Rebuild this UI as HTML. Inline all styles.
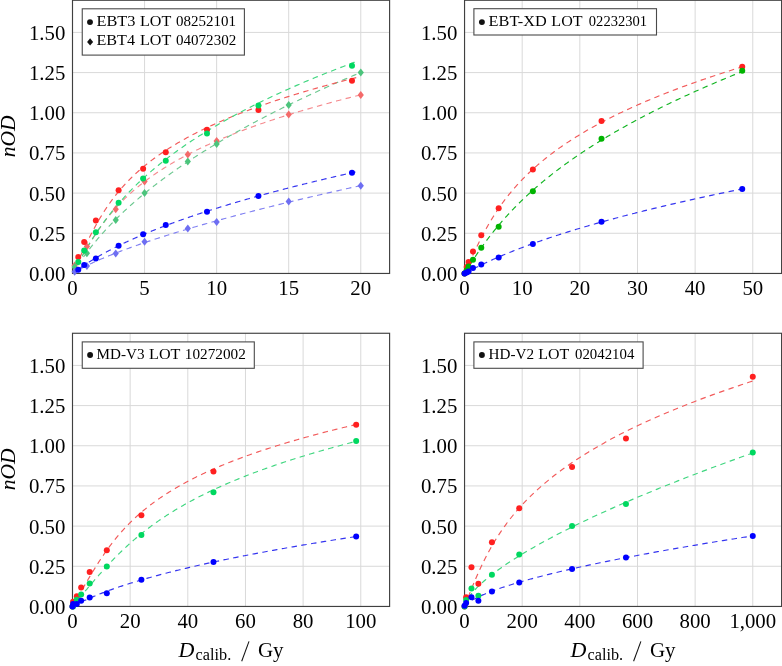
<!DOCTYPE html>
<html><head><meta charset="utf-8"><style>
html,body{margin:0;padding:0;background:#fff;}
svg{display:block;will-change:transform;}
.gr{stroke:#d9d9d9;stroke-width:1;}
.fr{fill:none;stroke:#404040;stroke-width:1.15;}
.lg{fill:#fff;stroke:#4a4a4a;stroke-width:1.1;}
.tk{font-family:"Liberation Serif",serif;font-size:20.8px;fill:#000;}
.lt{font-family:"Liberation Serif",serif;font-size:14px;fill:#000;}
.al{font-family:"Liberation Serif",serif;font-size:21.5px;fill:#000;}
</style></head><body>
<svg width="782" height="666" viewBox="0 0 782 666">
<rect width="782" height="666" fill="#fff"/>
<defs>
<clipPath id="cTL"><rect x="72.50" y="0.27" width="317.10" height="273.18"/></clipPath>
<clipPath id="cTR"><rect x="464.55" y="0.27" width="317.05" height="273.18"/></clipPath>
<clipPath id="cBL"><rect x="72.50" y="333.27" width="317.10" height="273.18"/></clipPath>
<clipPath id="cBR"><rect x="464.55" y="333.27" width="317.05" height="273.18"/></clipPath>
</defs>
<line x1="144.57" y1="0.27" x2="144.57" y2="273.45" class="gr"/>
<line x1="216.64" y1="0.27" x2="216.64" y2="273.45" class="gr"/>
<line x1="288.70" y1="0.27" x2="288.70" y2="273.45" class="gr"/>
<line x1="360.77" y1="0.27" x2="360.77" y2="273.45" class="gr"/>
<line x1="72.50" y1="233.28" x2="389.60" y2="233.28" class="gr"/>
<line x1="72.50" y1="193.10" x2="389.60" y2="193.10" class="gr"/>
<line x1="72.50" y1="152.93" x2="389.60" y2="152.93" class="gr"/>
<line x1="72.50" y1="112.76" x2="389.60" y2="112.76" class="gr"/>
<line x1="72.50" y1="72.58" x2="389.60" y2="72.58" class="gr"/>
<line x1="72.50" y1="32.41" x2="389.60" y2="32.41" class="gr"/>
<path d="M72.50,273.45 L72.83,272.85 L73.16,272.26 L73.50,271.66 L73.83,271.06 L74.16,270.46 L74.49,269.87 L74.83,269.27 L75.16,268.67 L75.49,268.07 L75.83,267.48 L76.16,266.88 L76.49,266.28 L76.83,265.68 L77.16,265.09 L77.50,264.49 L77.83,263.89 L78.17,263.29 L78.50,262.70 L78.84,262.10 L79.17,261.50 L79.51,260.91 L79.85,260.31 L80.18,259.71 L80.52,259.11 L80.86,258.52 L81.20,257.92 L81.54,257.32 L81.88,256.72 L82.22,256.13 L82.57,255.53 L82.91,254.93 L83.25,254.33 L83.60,253.74 L83.94,253.14 L84.29,252.54 L84.64,251.95 L84.99,251.35 L85.34,250.75 L85.69,250.15 L86.04,249.56 L86.39,248.96 L86.75,248.36 L87.10,247.76 L87.46,247.17 L87.82,246.57 L88.18,245.97 L88.54,245.37 L88.90,244.78 L89.26,244.18 L89.63,243.58 L90.00,242.98 L90.37,242.39 L90.74,241.79 L91.11,241.19 L91.48,240.60 L91.86,240.00 L92.23,239.40 L92.61,238.80 L92.99,238.21 L93.38,237.61 L93.76,237.01 L94.15,236.41 L94.54,235.82 L94.93,235.22 L95.32,234.62 L95.72,234.02 L96.11,233.43 L96.51,232.83 L96.92,232.23 L97.32,231.64 L97.73,231.04 L98.14,230.44 L98.55,229.84 L98.96,229.25 L99.38,228.65 L99.80,228.05 L100.22,227.45 L100.65,226.86 L101.07,226.26 L101.51,225.66 L101.94,225.06 L102.38,224.47 L102.82,223.87 L103.26,223.27 L103.70,222.67 L104.15,222.08 L104.60,221.48 L105.06,220.88 L105.52,220.29 L105.98,219.69 L106.44,219.09 L106.91,218.49 L107.38,217.90 L107.86,217.30 L108.34,216.70 L108.82,216.10 L109.31,215.51 L109.80,214.91 L110.29,214.31 L110.79,213.71 L111.29,213.12 L111.79,212.52 L112.30,211.92 L112.82,211.33 L113.33,210.73 L113.86,210.13 L114.38,209.53 L114.91,208.94 L115.44,208.34 L115.98,207.74 L116.53,207.14 L117.07,206.55 L117.62,205.95 L118.18,205.35 L118.74,204.75 L119.31,204.16 L119.88,203.56 L120.45,202.96 L121.03,202.36 L121.61,201.77 L122.20,201.17 L122.80,200.57 L123.40,199.98 L124.00,199.38 L124.61,198.78 L125.22,198.18 L125.84,197.59 L126.47,196.99 L127.10,196.39 L127.73,195.79 L128.37,195.20 L129.02,194.60 L129.67,194.00 L130.33,193.40 L130.99,192.81 L131.66,192.21 L132.34,191.61 L133.02,191.02 L133.70,190.42 L134.40,189.82 L135.09,189.22 L135.80,188.63 L136.51,188.03 L137.23,187.43 L137.95,186.83 L138.68,186.24 L139.41,185.64 L140.15,185.04 L140.90,184.44 L141.66,183.85 L142.42,183.25 L143.19,182.65 L143.96,182.05 L144.74,181.46 L145.53,180.86 L146.32,180.26 L147.13,179.67 L147.93,179.07 L148.75,178.47 L149.57,177.87 L150.40,177.28 L151.24,176.68 L152.08,176.08 L152.93,175.48 L153.79,174.89 L154.66,174.29 L155.53,173.69 L156.41,173.09 L157.30,172.50 L158.20,171.90 L159.10,171.30 L160.01,170.71 L160.93,170.11 L161.86,169.51 L162.80,168.91 L163.74,168.32 L164.69,167.72 L165.65,167.12 L166.62,166.52 L167.60,165.93 L168.58,165.33 L169.57,164.73 L170.57,164.13 L171.58,163.54 L172.60,162.94 L173.63,162.34 L174.67,161.74 L175.71,161.15 L176.76,160.55 L177.82,159.95 L178.90,159.36 L179.98,158.76 L181.06,158.16 L182.16,157.56 L183.27,156.97 L184.39,156.37 L185.51,155.77 L186.65,155.17 L187.79,154.58 L188.94,153.98 L190.11,153.38 L191.28,152.78 L192.46,152.19 L193.66,151.59 L194.86,150.99 L196.07,150.40 L197.29,149.80 L198.52,149.20 L199.76,148.60 L201.02,148.01 L202.28,147.41 L203.55,146.81 L204.83,146.21 L206.13,145.62 L207.43,145.02 L208.74,144.42 L210.07,143.82 L211.40,143.23 L212.75,142.63 L214.10,142.03 L215.47,141.43 L216.85,140.84 L218.24,140.24 L219.64,139.64 L221.05,139.05 L222.47,138.45 L223.91,137.85 L225.35,137.25 L226.81,136.66 L228.27,136.06 L229.75,135.46 L231.24,134.86 L232.74,134.27 L234.26,133.67 L235.78,133.07 L237.32,132.47 L238.87,131.88 L240.43,131.28 L242.00,130.68 L243.58,130.09 L245.18,129.49 L246.79,128.89 L248.41,128.29 L250.04,127.70 L251.69,127.10 L253.35,126.50 L255.02,125.90 L256.70,125.31 L258.40,124.71 L260.11,124.11 L261.83,123.51 L263.56,122.92 L265.31,122.32 L267.07,121.72 L268.84,121.12 L270.63,120.53 L272.43,119.93 L274.24,119.33 L276.06,118.74 L277.90,118.14 L279.76,117.54 L281.62,116.94 L283.50,116.35 L285.39,115.75 L287.30,115.15 L289.22,114.55 L291.16,113.96 L293.10,113.36 L295.07,112.76 L297.04,112.16 L299.03,111.57 L301.04,110.97 L303.06,110.37 L305.09,109.77 L307.14,109.18 L309.20,108.58 L311.28,107.98 L313.37,107.39 L315.47,106.79 L317.59,106.19 L319.73,105.59 L321.88,105.00 L324.04,104.40 L326.22,103.80 L328.42,103.20 L330.63,102.61 L332.85,102.01 L335.10,101.41 L337.35,100.81 L339.62,100.22 L341.91,99.62 L344.21,99.02 L346.53,98.43 L348.87,97.83 L351.21,97.23 L353.58,96.63 L355.96,96.04 L358.36,95.44 L360.77,94.84" clip-path="url(#cTL)" fill="none" stroke="#f58a8e" stroke-width="1.15" stroke-dasharray="5.5 4.4"/>
<path d="M72.50,273.45 L72.92,272.78 L73.35,272.11 L73.77,271.43 L74.20,270.76 L74.63,270.09 L75.06,269.42 L75.50,268.74 L75.94,268.07 L76.38,267.40 L76.82,266.73 L77.26,266.05 L77.71,265.38 L78.16,264.71 L78.61,264.04 L79.07,263.37 L79.53,262.69 L79.99,262.02 L80.45,261.35 L80.92,260.68 L81.39,260.00 L81.86,259.33 L82.34,258.66 L82.81,257.99 L83.30,257.31 L83.78,256.64 L84.27,255.97 L84.76,255.30 L85.25,254.62 L85.75,253.95 L86.25,253.28 L86.75,252.61 L87.25,251.94 L87.76,251.26 L88.27,250.59 L88.79,249.92 L89.31,249.25 L89.83,248.57 L90.35,247.90 L90.88,247.23 L91.41,246.56 L91.95,245.88 L92.48,245.21 L93.03,244.54 L93.57,243.87 L94.12,243.20 L94.67,242.52 L95.22,241.85 L95.78,241.18 L96.34,240.51 L96.90,239.83 L97.47,239.16 L98.04,238.49 L98.62,237.82 L99.20,237.14 L99.78,236.47 L100.36,235.80 L100.95,235.13 L101.54,234.46 L102.14,233.78 L102.73,233.11 L103.34,232.44 L103.94,231.77 L104.55,231.09 L105.16,230.42 L105.78,229.75 L106.40,229.08 L107.02,228.40 L107.65,227.73 L108.28,227.06 L108.91,226.39 L109.55,225.71 L110.19,225.04 L110.84,224.37 L111.49,223.70 L112.14,223.03 L112.79,222.35 L113.45,221.68 L114.12,221.01 L114.78,220.34 L115.45,219.66 L116.13,218.99 L116.81,218.32 L117.49,217.65 L118.17,216.97 L118.86,216.30 L119.55,215.63 L120.25,214.96 L120.95,214.29 L121.65,213.61 L122.36,212.94 L123.07,212.27 L123.79,211.60 L124.51,210.92 L125.23,210.25 L125.95,209.58 L126.68,208.91 L127.42,208.23 L128.16,207.56 L128.90,206.89 L129.64,206.22 L130.39,205.55 L131.15,204.87 L131.90,204.20 L132.66,203.53 L133.43,202.86 L134.20,202.18 L134.97,201.51 L135.74,200.84 L136.52,200.17 L137.31,199.49 L138.10,198.82 L138.89,198.15 L139.68,197.48 L140.48,196.80 L141.29,196.13 L142.09,195.46 L142.91,194.79 L143.72,194.12 L144.54,193.44 L145.36,192.77 L146.19,192.10 L147.02,191.43 L147.86,190.75 L148.70,190.08 L149.54,189.41 L150.39,188.74 L151.24,188.06 L152.09,187.39 L152.95,186.72 L153.81,186.05 L154.68,185.38 L155.55,184.70 L156.43,184.03 L157.30,183.36 L158.19,182.69 L159.07,182.01 L159.97,181.34 L160.86,180.67 L161.76,180.00 L162.66,179.32 L163.57,178.65 L164.48,177.98 L165.40,177.31 L166.32,176.64 L167.24,175.96 L168.17,175.29 L169.10,174.62 L170.04,173.95 L170.98,173.27 L171.92,172.60 L172.87,171.93 L173.82,171.26 L174.78,170.58 L175.74,169.91 L176.70,169.24 L177.67,168.57 L178.64,167.89 L179.62,167.22 L180.60,166.55 L181.59,165.88 L182.58,165.21 L183.57,164.53 L184.57,163.86 L185.57,163.19 L186.58,162.52 L187.59,161.84 L188.60,161.17 L189.62,160.50 L190.64,159.83 L191.67,159.15 L192.70,158.48 L193.74,157.81 L194.78,157.14 L195.82,156.47 L196.87,155.79 L197.92,155.12 L198.98,154.45 L200.04,153.78 L201.10,153.10 L202.17,152.43 L203.25,151.76 L204.33,151.09 L205.41,150.41 L206.49,149.74 L207.58,149.07 L208.68,148.40 L209.78,147.73 L210.88,147.05 L211.99,146.38 L213.10,145.71 L214.22,145.04 L215.34,144.36 L216.46,143.69 L217.59,143.02 L218.73,142.35 L219.86,141.67 L221.01,141.00 L222.15,140.33 L223.30,139.66 L224.46,138.98 L225.62,138.31 L226.78,137.64 L227.95,136.97 L229.12,136.30 L230.30,135.62 L231.48,134.95 L232.66,134.28 L233.85,133.61 L235.05,132.93 L236.25,132.26 L237.45,131.59 L238.66,130.92 L239.87,130.24 L241.08,129.57 L242.30,128.90 L243.53,128.23 L244.76,127.56 L245.99,126.88 L247.23,126.21 L248.47,125.54 L249.72,124.87 L250.97,124.19 L252.22,123.52 L253.48,122.85 L254.75,122.18 L256.02,121.50 L257.29,120.83 L258.57,120.16 L259.85,119.49 L261.14,118.82 L262.43,118.14 L263.72,117.47 L265.02,116.80 L266.33,116.13 L267.63,115.45 L268.95,114.78 L270.26,114.11 L271.59,113.44 L272.91,112.76 L274.24,112.09 L275.58,111.42 L276.92,110.75 L278.26,110.07 L279.61,109.40 L280.97,108.73 L282.32,108.06 L283.68,107.39 L285.05,106.71 L286.42,106.04 L287.80,105.37 L289.18,104.70 L290.56,104.02 L291.95,103.35 L293.35,102.68 L294.74,102.01 L296.15,101.33 L297.55,100.66 L298.97,99.99 L300.38,99.32 L301.80,98.65 L303.23,97.97 L304.66,97.30 L306.09,96.63 L307.53,95.96 L308.97,95.28 L310.42,94.61 L311.87,93.94 L313.33,93.27 L314.79,92.59 L316.26,91.92 L317.73,91.25 L319.21,90.58 L320.69,89.91 L322.17,89.23 L323.66,88.56 L325.15,87.89 L326.65,87.22 L328.15,86.54 L329.66,85.87 L331.17,85.20 L332.69,84.53 L334.21,83.85 L335.74,83.18 L337.27,82.51 L338.80,81.84 L340.34,81.16 L341.88,80.49 L343.43,79.82 L344.99,79.15 L346.54,78.48 L348.11,77.80 L349.67,77.13 L351.25,76.46 L352.82,75.79 L354.40,75.11 L355.99,74.44 L357.58,73.77 L359.17,73.10 L360.77,72.42" clip-path="url(#cTL)" fill="none" stroke="#6cc890" stroke-width="1.15" stroke-dasharray="5.5 4.4"/>
<path d="M72.50,273.45 L72.95,273.16 L73.41,272.86 L73.88,272.57 L74.35,272.27 L74.84,271.98 L75.33,271.69 L75.83,271.39 L76.33,271.10 L76.84,270.80 L77.36,270.51 L77.88,270.22 L78.40,269.92 L78.94,269.63 L79.48,269.34 L80.02,269.04 L80.57,268.75 L81.12,268.45 L81.68,268.16 L82.24,267.87 L82.81,267.57 L83.38,267.28 L83.96,266.98 L84.54,266.69 L85.13,266.40 L85.72,266.10 L86.31,265.81 L86.91,265.51 L87.51,265.22 L88.12,264.93 L88.73,264.63 L89.35,264.34 L89.97,264.05 L90.59,263.75 L91.22,263.46 L91.85,263.16 L92.49,262.87 L93.13,262.58 L93.77,262.28 L94.42,261.99 L95.07,261.69 L95.73,261.40 L96.39,261.11 L97.05,260.81 L97.72,260.52 L98.39,260.22 L99.06,259.93 L99.74,259.64 L100.42,259.34 L101.11,259.05 L101.80,258.76 L102.49,258.46 L103.19,258.17 L103.89,257.87 L104.59,257.58 L105.29,257.29 L106.00,256.99 L106.72,256.70 L107.44,256.40 L108.16,256.11 L108.88,255.82 L109.61,255.52 L110.34,255.23 L111.07,254.93 L111.81,254.64 L112.55,254.35 L113.29,254.05 L114.04,253.76 L114.79,253.47 L115.55,253.17 L116.30,252.88 L117.06,252.58 L117.83,252.29 L118.59,252.00 L119.36,251.70 L120.14,251.41 L120.91,251.11 L121.69,250.82 L122.48,250.53 L123.26,250.23 L124.05,249.94 L124.84,249.64 L125.64,249.35 L126.44,249.06 L127.24,248.76 L128.04,248.47 L128.85,248.17 L129.66,247.88 L130.48,247.59 L131.29,247.29 L132.11,247.00 L132.94,246.71 L133.76,246.41 L134.59,246.12 L135.42,245.82 L136.26,245.53 L137.10,245.24 L137.94,244.94 L138.78,244.65 L139.63,244.35 L140.48,244.06 L141.33,243.77 L142.19,243.47 L143.04,243.18 L143.91,242.88 L144.77,242.59 L145.64,242.30 L146.51,242.00 L147.38,241.71 L148.26,241.42 L149.13,241.12 L150.02,240.83 L150.90,240.53 L151.79,240.24 L152.68,239.95 L153.57,239.65 L154.47,239.36 L155.37,239.06 L156.27,238.77 L157.17,238.48 L158.08,238.18 L158.99,237.89 L159.90,237.59 L160.82,237.30 L161.73,237.01 L162.65,236.71 L163.58,236.42 L164.50,236.13 L165.43,235.83 L166.37,235.54 L167.30,235.24 L168.24,234.95 L169.18,234.66 L170.12,234.36 L171.07,234.07 L172.01,233.77 L172.96,233.48 L173.92,233.19 L174.87,232.89 L175.83,232.60 L176.79,232.30 L177.76,232.01 L178.72,231.72 L179.69,231.42 L180.67,231.13 L181.64,230.83 L182.62,230.54 L183.60,230.25 L184.58,229.95 L185.57,229.66 L186.55,229.37 L187.54,229.07 L188.54,228.78 L189.53,228.48 L190.53,228.19 L191.53,227.90 L192.54,227.60 L193.54,227.31 L194.55,227.01 L195.56,226.72 L196.58,226.43 L197.59,226.13 L198.61,225.84 L199.63,225.54 L200.66,225.25 L201.68,224.96 L202.71,224.66 L203.74,224.37 L204.78,224.08 L205.81,223.78 L206.85,223.49 L207.89,223.19 L208.94,222.90 L209.99,222.61 L211.03,222.31 L212.09,222.02 L213.14,221.72 L214.20,221.43 L215.26,221.14 L216.32,220.84 L217.38,220.55 L218.45,220.25 L219.52,219.96 L220.59,219.67 L221.66,219.37 L222.74,219.08 L223.82,218.79 L224.90,218.49 L225.98,218.20 L227.07,217.90 L228.16,217.61 L229.25,217.32 L230.34,217.02 L231.44,216.73 L232.54,216.43 L233.64,216.14 L234.74,215.85 L235.85,215.55 L236.96,215.26 L238.07,214.96 L239.18,214.67 L240.30,214.38 L241.41,214.08 L242.53,213.79 L243.66,213.50 L244.78,213.20 L245.91,212.91 L247.04,212.61 L248.17,212.32 L249.31,212.03 L250.44,211.73 L251.58,211.44 L252.72,211.14 L253.87,210.85 L255.01,210.56 L256.16,210.26 L257.31,209.97 L258.47,209.67 L259.62,209.38 L260.78,209.09 L261.94,208.79 L263.10,208.50 L264.27,208.20 L265.44,207.91 L266.61,207.62 L267.78,207.32 L268.95,207.03 L270.13,206.74 L271.31,206.44 L272.49,206.15 L273.67,205.85 L274.86,205.56 L276.05,205.27 L277.24,204.97 L278.43,204.68 L279.63,204.38 L280.82,204.09 L282.02,203.80 L283.22,203.50 L284.43,203.21 L285.64,202.91 L286.84,202.62 L288.06,202.33 L289.27,202.03 L290.48,201.74 L291.70,201.45 L292.92,201.15 L294.15,200.86 L295.37,200.56 L296.60,200.27 L297.83,199.98 L299.06,199.68 L300.29,199.39 L301.53,199.09 L302.77,198.80 L304.01,198.51 L305.25,198.21 L306.49,197.92 L307.74,197.62 L308.99,197.33 L310.24,197.04 L311.50,196.74 L312.75,196.45 L314.01,196.16 L315.27,195.86 L316.53,195.57 L317.80,195.27 L319.07,194.98 L320.34,194.69 L321.61,194.39 L322.88,194.10 L324.16,193.80 L325.44,193.51 L326.72,193.22 L328.00,192.92 L329.28,192.63 L330.57,192.33 L331.86,192.04 L333.15,191.75 L334.45,191.45 L335.74,191.16 L337.04,190.87 L338.34,190.57 L339.64,190.28 L340.95,189.98 L342.25,189.69 L343.56,189.40 L344.87,189.10 L346.19,188.81 L347.50,188.51 L348.82,188.22 L350.14,187.93 L351.46,187.63 L352.78,187.34 L354.11,187.04 L355.44,186.75 L356.77,186.46 L358.10,186.16 L359.44,185.87 L360.77,185.57" clip-path="url(#cTL)" fill="none" stroke="#8282f2" stroke-width="1.15" stroke-dasharray="5.5 4.4"/>
<path d="M72.50,273.45 L72.80,272.79 L73.10,272.14 L73.40,271.48 L73.70,270.82 L74.00,270.17 L74.31,269.51 L74.61,268.86 L74.91,268.20 L75.21,267.54 L75.51,266.89 L75.81,266.23 L76.11,265.57 L76.41,264.92 L76.72,264.26 L77.02,263.60 L77.32,262.95 L77.62,262.29 L77.92,261.64 L78.23,260.98 L78.53,260.32 L78.83,259.67 L79.14,259.01 L79.44,258.35 L79.74,257.70 L80.05,257.04 L80.35,256.38 L80.66,255.73 L80.97,255.07 L81.27,254.42 L81.58,253.76 L81.89,253.10 L82.19,252.45 L82.50,251.79 L82.81,251.13 L83.12,250.48 L83.43,249.82 L83.74,249.16 L84.06,248.51 L84.37,247.85 L84.68,247.19 L85.00,246.54 L85.31,245.88 L85.63,245.23 L85.95,244.57 L86.26,243.91 L86.58,243.26 L86.90,242.60 L87.22,241.94 L87.55,241.29 L87.87,240.63 L88.20,239.97 L88.52,239.32 L88.85,238.66 L89.18,238.01 L89.51,237.35 L89.84,236.69 L90.17,236.04 L90.51,235.38 L90.84,234.72 L91.18,234.07 L91.52,233.41 L91.86,232.75 L92.20,232.10 L92.55,231.44 L92.89,230.79 L93.24,230.13 L93.59,229.47 L93.94,228.82 L94.30,228.16 L94.65,227.50 L95.01,226.85 L95.37,226.19 L95.73,225.53 L96.09,224.88 L96.46,224.22 L96.83,223.57 L97.20,222.91 L97.57,222.25 L97.95,221.60 L98.33,220.94 L98.71,220.28 L99.09,219.63 L99.48,218.97 L99.86,218.31 L100.25,217.66 L100.65,217.00 L101.05,216.35 L101.45,215.69 L101.85,215.03 L102.25,214.38 L102.66,213.72 L103.07,213.06 L103.49,212.41 L103.91,211.75 L104.33,211.09 L104.75,210.44 L105.18,209.78 L105.61,209.12 L106.05,208.47 L106.49,207.81 L106.93,207.16 L107.37,206.50 L107.82,205.84 L108.28,205.19 L108.73,204.53 L109.19,203.87 L109.66,203.22 L110.13,202.56 L110.60,201.90 L111.08,201.25 L111.56,200.59 L112.04,199.94 L112.53,199.28 L113.03,198.62 L113.52,197.97 L114.03,197.31 L114.53,196.65 L115.05,196.00 L115.56,195.34 L116.08,194.68 L116.61,194.03 L117.14,193.37 L117.68,192.72 L118.22,192.06 L118.76,191.40 L119.31,190.75 L119.87,190.09 L120.43,189.43 L121.00,188.78 L121.57,188.12 L122.15,187.46 L122.73,186.81 L123.32,186.15 L123.91,185.50 L124.51,184.84 L125.12,184.18 L125.73,183.53 L126.35,182.87 L126.97,182.21 L127.60,181.56 L128.23,180.90 L128.87,180.24 L129.52,179.59 L130.18,178.93 L130.84,178.28 L131.50,177.62 L132.18,176.96 L132.86,176.31 L133.54,175.65 L134.24,174.99 L134.94,174.34 L135.64,173.68 L136.36,173.02 L137.08,172.37 L137.80,171.71 L138.54,171.05 L139.28,170.40 L140.03,169.74 L140.79,169.09 L141.55,168.43 L142.32,167.77 L143.10,167.12 L143.89,166.46 L144.69,165.80 L145.49,165.15 L146.30,164.49 L147.12,163.83 L147.94,163.18 L148.78,162.52 L149.62,161.87 L150.47,161.21 L151.33,160.55 L152.20,159.90 L153.08,159.24 L153.96,158.58 L154.85,157.93 L155.76,157.27 L156.67,156.61 L157.59,155.96 L158.52,155.30 L159.45,154.65 L160.40,153.99 L161.36,153.33 L162.32,152.68 L163.30,152.02 L164.28,151.36 L165.28,150.71 L166.28,150.05 L167.29,149.39 L168.32,148.74 L169.35,148.08 L170.39,147.43 L171.45,146.77 L172.51,146.11 L173.58,145.46 L174.67,144.80 L175.76,144.14 L176.86,143.49 L177.98,142.83 L179.10,142.17 L180.24,141.52 L181.39,140.86 L182.54,140.21 L183.71,139.55 L184.89,138.89 L186.08,138.24 L187.28,137.58 L188.50,136.92 L189.72,136.27 L190.96,135.61 L192.20,134.95 L193.46,134.30 L194.73,133.64 L196.02,132.98 L197.31,132.33 L198.62,131.67 L199.94,131.02 L201.27,130.36 L202.61,129.70 L203.96,129.05 L205.33,128.39 L206.71,127.73 L208.10,127.08 L209.51,126.42 L210.93,125.76 L212.36,125.11 L213.80,124.45 L215.26,123.80 L216.73,123.14 L218.21,122.48 L219.71,121.83 L221.22,121.17 L222.74,120.51 L224.28,119.86 L225.83,119.20 L227.40,118.54 L228.97,117.89 L230.57,117.23 L232.17,116.58 L233.79,115.92 L235.43,115.26 L237.08,114.61 L238.74,113.95 L240.42,113.29 L242.11,112.64 L243.82,111.98 L245.54,111.32 L247.28,110.67 L249.03,110.01 L250.80,109.36 L252.58,108.70 L254.37,108.04 L256.19,107.39 L258.02,106.73 L259.86,106.07 L261.72,105.42 L263.59,104.76 L265.49,104.10 L267.39,103.45 L269.32,102.79 L271.25,102.14 L273.21,101.48 L275.18,100.82 L277.17,100.17 L279.17,99.51 L281.20,98.85 L283.23,98.20 L285.29,97.54 L287.36,96.88 L289.45,96.23 L291.56,95.57 L293.68,94.92 L295.82,94.26 L297.98,93.60 L300.15,92.95 L302.35,92.29 L304.56,91.63 L306.79,90.98 L309.03,90.32 L311.30,89.66 L313.58,89.01 L315.88,88.35 L318.20,87.69 L320.54,87.04 L322.89,86.38 L325.27,85.73 L327.66,85.07 L330.08,84.41 L332.51,83.76 L334.96,83.10 L337.43,82.44 L339.92,81.79 L342.43,81.13 L344.95,80.47 L347.50,79.82 L350.07,79.16 L352.66,78.51 L355.26,77.85 L357.89,77.19" clip-path="url(#cTL)" fill="none" stroke="#f25a5a" stroke-width="1.15" stroke-dasharray="5.5 4.4"/>
<path d="M72.50,273.45 L72.88,272.74 L73.27,272.03 L73.65,271.32 L74.04,270.61 L74.42,269.90 L74.81,269.19 L75.19,268.48 L75.58,267.77 L75.96,267.05 L76.35,266.34 L76.74,265.63 L77.13,264.92 L77.52,264.21 L77.91,263.50 L78.30,262.79 L78.70,262.08 L79.09,261.37 L79.49,260.66 L79.89,259.95 L80.28,259.24 L80.68,258.53 L81.08,257.82 L81.49,257.11 L81.89,256.40 L82.29,255.69 L82.70,254.97 L83.11,254.26 L83.52,253.55 L83.93,252.84 L84.34,252.13 L84.76,251.42 L85.18,250.71 L85.59,250.00 L86.01,249.29 L86.44,248.58 L86.86,247.87 L87.29,247.16 L87.71,246.45 L88.14,245.74 L88.58,245.03 L89.01,244.32 L89.45,243.61 L89.89,242.89 L90.33,242.18 L90.77,241.47 L91.22,240.76 L91.66,240.05 L92.11,239.34 L92.57,238.63 L93.02,237.92 L93.48,237.21 L93.94,236.50 L94.40,235.79 L94.87,235.08 L95.34,234.37 L95.81,233.66 L96.28,232.95 L96.76,232.24 L97.24,231.53 L97.72,230.82 L98.20,230.10 L98.69,229.39 L99.18,228.68 L99.67,227.97 L100.17,227.26 L100.67,226.55 L101.17,225.84 L101.68,225.13 L102.18,224.42 L102.70,223.71 L103.21,223.00 L103.73,222.29 L104.25,221.58 L104.77,220.87 L105.30,220.16 L105.83,219.45 L106.37,218.74 L106.90,218.02 L107.45,217.31 L107.99,216.60 L108.54,215.89 L109.09,215.18 L109.64,214.47 L110.20,213.76 L110.76,213.05 L111.33,212.34 L111.90,211.63 L112.47,210.92 L113.05,210.21 L113.63,209.50 L114.22,208.79 L114.80,208.08 L115.40,207.37 L115.99,206.66 L116.59,205.94 L117.19,205.23 L117.80,204.52 L118.41,203.81 L119.03,203.10 L119.65,202.39 L120.27,201.68 L120.90,200.97 L121.53,200.26 L122.17,199.55 L122.81,198.84 L123.45,198.13 L124.10,197.42 L124.76,196.71 L125.41,196.00 L126.07,195.29 L126.74,194.58 L127.41,193.86 L128.09,193.15 L128.76,192.44 L129.45,191.73 L130.14,191.02 L130.83,190.31 L131.53,189.60 L132.23,188.89 L132.93,188.18 L133.65,187.47 L134.36,186.76 L135.08,186.05 L135.81,185.34 L136.54,184.63 L137.27,183.92 L138.01,183.21 L138.75,182.50 L139.50,181.78 L140.26,181.07 L141.02,180.36 L141.78,179.65 L142.55,178.94 L143.32,178.23 L144.10,177.52 L144.88,176.81 L145.67,176.10 L146.47,175.39 L147.27,174.68 L148.07,173.97 L148.88,173.26 L149.69,172.55 L150.51,171.84 L151.34,171.13 L152.17,170.42 L153.00,169.70 L153.84,168.99 L154.69,168.28 L155.54,167.57 L156.40,166.86 L157.26,166.15 L158.13,165.44 L159.00,164.73 L159.88,164.02 L160.76,163.31 L161.65,162.60 L162.55,161.89 L163.45,161.18 L164.36,160.47 L165.27,159.76 L166.19,159.05 L167.11,158.34 L168.04,157.62 L168.97,156.91 L169.92,156.20 L170.86,155.49 L171.81,154.78 L172.77,154.07 L173.74,153.36 L174.71,152.65 L175.68,151.94 L176.66,151.23 L177.65,150.52 L178.65,149.81 L179.65,149.10 L180.65,148.39 L181.66,147.68 L182.68,146.97 L183.71,146.26 L184.74,145.55 L185.77,144.83 L186.82,144.12 L187.86,143.41 L188.92,142.70 L189.98,141.99 L191.05,141.28 L192.12,140.57 L193.20,139.86 L194.29,139.15 L195.38,138.44 L196.48,137.73 L197.59,137.02 L198.70,136.31 L199.82,135.60 L200.94,134.89 L202.08,134.18 L203.22,133.47 L204.36,132.75 L205.51,132.04 L206.67,131.33 L207.83,130.62 L209.01,129.91 L210.18,129.20 L211.37,128.49 L212.56,127.78 L213.76,127.07 L214.96,126.36 L216.18,125.65 L217.40,124.94 L218.62,124.23 L219.85,123.52 L221.09,122.81 L222.34,122.10 L223.59,121.39 L224.85,120.67 L226.12,119.96 L227.39,119.25 L228.68,118.54 L229.96,117.83 L231.26,117.12 L232.56,116.41 L233.87,115.70 L235.19,114.99 L236.51,114.28 L237.84,113.57 L239.18,112.86 L240.53,112.15 L241.88,111.44 L243.24,110.73 L244.61,110.02 L245.98,109.31 L247.37,108.59 L248.76,107.88 L250.15,107.17 L251.56,106.46 L252.97,105.75 L254.39,105.04 L255.82,104.33 L257.25,103.62 L258.69,102.91 L260.14,102.20 L261.60,101.49 L263.06,100.78 L264.53,100.07 L266.01,99.36 L267.50,98.65 L269.00,97.94 L270.50,97.23 L272.01,96.51 L273.53,95.80 L275.06,95.09 L276.59,94.38 L278.13,93.67 L279.68,92.96 L281.24,92.25 L282.80,91.54 L284.38,90.83 L285.96,90.12 L287.55,89.41 L289.15,88.70 L290.75,87.99 L292.36,87.28 L293.99,86.57 L295.62,85.86 L297.25,85.15 L298.90,84.43 L300.55,83.72 L302.21,83.01 L303.88,82.30 L305.56,81.59 L307.25,80.88 L308.94,80.17 L310.65,79.46 L312.36,78.75 L314.08,78.04 L315.80,77.33 L317.54,76.62 L319.29,75.91 L321.04,75.20 L322.80,74.49 L324.57,73.78 L326.35,73.07 L328.13,72.36 L329.93,71.64 L331.73,70.93 L333.54,70.22 L335.37,69.51 L337.20,68.80 L339.03,68.09 L340.88,67.38 L342.73,66.67 L344.60,65.96 L346.47,65.25 L348.35,64.54 L350.24,63.83 L352.14,63.12 L354.05,62.41 L355.96,61.70 L357.89,60.99" clip-path="url(#cTL)" fill="none" stroke="#3fd67f" stroke-width="1.15" stroke-dasharray="5.5 4.4"/>
<path d="M72.50,273.45 L72.96,273.11 L73.42,272.77 L73.88,272.43 L74.34,272.08 L74.80,271.74 L75.27,271.40 L75.74,271.06 L76.21,270.72 L76.69,270.38 L77.16,270.04 L77.64,269.70 L78.12,269.35 L78.61,269.01 L79.09,268.67 L79.58,268.33 L80.08,267.99 L80.57,267.65 L81.07,267.31 L81.57,266.97 L82.07,266.62 L82.58,266.28 L83.08,265.94 L83.59,265.60 L84.11,265.26 L84.62,264.92 L85.14,264.58 L85.67,264.24 L86.19,263.89 L86.72,263.55 L87.25,263.21 L87.78,262.87 L88.32,262.53 L88.86,262.19 L89.40,261.85 L89.95,261.51 L90.50,261.16 L91.05,260.82 L91.60,260.48 L92.16,260.14 L92.72,259.80 L93.29,259.46 L93.85,259.12 L94.42,258.78 L94.99,258.43 L95.57,258.09 L96.15,257.75 L96.73,257.41 L97.32,257.07 L97.91,256.73 L98.50,256.39 L99.09,256.05 L99.69,255.70 L100.29,255.36 L100.90,255.02 L101.50,254.68 L102.11,254.34 L102.73,254.00 L103.34,253.66 L103.96,253.31 L104.59,252.97 L105.21,252.63 L105.84,252.29 L106.48,251.95 L107.11,251.61 L107.75,251.27 L108.40,250.93 L109.04,250.58 L109.69,250.24 L110.35,249.90 L111.00,249.56 L111.66,249.22 L112.32,248.88 L112.99,248.54 L113.66,248.20 L114.33,247.85 L115.01,247.51 L115.69,247.17 L116.37,246.83 L117.06,246.49 L117.75,246.15 L118.44,245.81 L119.14,245.47 L119.84,245.12 L120.54,244.78 L121.25,244.44 L121.96,244.10 L122.67,243.76 L123.39,243.42 L124.11,243.08 L124.83,242.74 L125.56,242.39 L126.29,242.05 L127.02,241.71 L127.76,241.37 L128.50,241.03 L129.25,240.69 L129.99,240.35 L130.74,240.01 L131.50,239.66 L132.26,239.32 L133.02,238.98 L133.78,238.64 L134.55,238.30 L135.33,237.96 L136.10,237.62 L136.88,237.27 L137.66,236.93 L138.45,236.59 L139.24,236.25 L140.03,235.91 L140.83,235.57 L141.63,235.23 L142.44,234.89 L143.24,234.54 L144.06,234.20 L144.87,233.86 L145.69,233.52 L146.51,233.18 L147.34,232.84 L148.17,232.50 L149.00,232.16 L149.84,231.81 L150.68,231.47 L151.52,231.13 L152.37,230.79 L153.22,230.45 L154.07,230.11 L154.93,229.77 L155.79,229.43 L156.66,229.08 L157.53,228.74 L158.40,228.40 L159.27,228.06 L160.15,227.72 L161.04,227.38 L161.93,227.04 L162.82,226.70 L163.71,226.35 L164.61,226.01 L165.51,225.67 L166.42,225.33 L167.33,224.99 L168.24,224.65 L169.16,224.31 L170.08,223.97 L171.00,223.62 L171.93,223.28 L172.86,222.94 L173.79,222.60 L174.73,222.26 L175.68,221.92 L176.62,221.58 L177.57,221.24 L178.53,220.89 L179.48,220.55 L180.44,220.21 L181.41,219.87 L182.38,219.53 L183.35,219.19 L184.33,218.85 L185.31,218.50 L186.29,218.16 L187.28,217.82 L188.27,217.48 L189.26,217.14 L190.26,216.80 L191.27,216.46 L192.27,216.12 L193.28,215.77 L194.30,215.43 L195.31,215.09 L196.34,214.75 L197.36,214.41 L198.39,214.07 L199.42,213.73 L200.46,213.39 L201.50,213.04 L202.54,212.70 L203.59,212.36 L204.64,212.02 L205.70,211.68 L206.76,211.34 L207.82,211.00 L208.89,210.66 L209.96,210.31 L211.04,209.97 L212.11,209.63 L213.20,209.29 L214.28,208.95 L215.37,208.61 L216.47,208.27 L217.57,207.93 L218.67,207.58 L219.77,207.24 L220.88,206.90 L222.00,206.56 L223.11,206.22 L224.23,205.88 L225.36,205.54 L226.49,205.20 L227.62,204.85 L228.76,204.51 L229.90,204.17 L231.04,203.83 L232.19,203.49 L233.34,203.15 L234.50,202.81 L235.66,202.47 L236.82,202.12 L237.99,201.78 L239.16,201.44 L240.34,201.10 L241.52,200.76 L242.70,200.42 L243.89,200.08 L245.08,199.73 L246.28,199.39 L247.47,199.05 L248.68,198.71 L249.89,198.37 L251.10,198.03 L252.31,197.69 L253.53,197.35 L254.75,197.00 L255.98,196.66 L257.21,196.32 L258.44,195.98 L259.68,195.64 L260.93,195.30 L262.17,194.96 L263.42,194.62 L264.68,194.27 L265.94,193.93 L267.20,193.59 L268.46,193.25 L269.74,192.91 L271.01,192.57 L272.29,192.23 L273.57,191.89 L274.86,191.54 L276.15,191.20 L277.44,190.86 L278.74,190.52 L280.04,190.18 L281.35,189.84 L282.66,189.50 L283.97,189.16 L285.29,188.81 L286.61,188.47 L287.94,188.13 L289.27,187.79 L290.60,187.45 L291.94,187.11 L293.28,186.77 L294.63,186.43 L295.98,186.08 L297.34,185.74 L298.69,185.40 L300.06,185.06 L301.42,184.72 L302.79,184.38 L304.17,184.04 L305.55,183.70 L306.93,183.35 L308.32,183.01 L309.71,182.67 L311.10,182.33 L312.50,181.99 L313.90,181.65 L315.31,181.31 L316.72,180.96 L318.14,180.62 L319.56,180.28 L320.98,179.94 L322.41,179.60 L323.84,179.26 L325.27,178.92 L326.71,178.58 L328.16,178.23 L329.60,177.89 L331.06,177.55 L332.51,177.21 L333.97,176.87 L335.44,176.53 L336.90,176.19 L338.38,175.85 L339.85,175.50 L341.33,175.16 L342.82,174.82 L344.31,174.48 L345.80,174.14 L347.30,173.80 L348.80,173.46 L350.30,173.12 L351.81,172.77 L353.33,172.43 L354.84,172.09 L356.36,171.75 L357.89,171.41" clip-path="url(#cTL)" fill="none" stroke="#3434f0" stroke-width="1.15" stroke-dasharray="5.5 4.4"/>
<rect x="72.50" y="0.27" width="317.10" height="273.18" class="fr"/>
<path d="M74.66,261.42 L77.76,265.42 L74.66,269.42 L71.56,265.42 Z" fill="#f46a6a"/>
<path d="M86.91,242.45 L90.01,246.45 L86.91,250.45 L83.81,246.45 Z" fill="#f46a6a"/>
<path d="M115.74,205.17 L118.84,209.17 L115.74,213.17 L112.64,209.17 Z" fill="#f46a6a"/>
<path d="M144.57,177.53 L147.67,181.53 L144.57,185.53 L141.47,181.53 Z" fill="#f46a6a"/>
<path d="M187.81,150.54 L190.91,154.54 L187.81,158.54 L184.71,154.54 Z" fill="#f46a6a"/>
<path d="M216.64,137.04 L219.74,141.04 L216.64,145.04 L213.54,141.04 Z" fill="#f46a6a"/>
<path d="M288.70,110.52 L291.80,114.52 L288.70,118.52 L285.60,114.52 Z" fill="#f46a6a"/>
<path d="M360.77,90.92 L363.87,94.92 L360.77,98.92 L357.67,94.92 Z" fill="#f46a6a"/>
<path d="M74.66,263.02 L77.76,267.02 L74.66,271.02 L71.56,267.02 Z" fill="#4cc47c"/>
<path d="M86.91,249.36 L90.01,253.36 L86.91,257.36 L83.81,253.36 Z" fill="#4cc47c"/>
<path d="M115.74,215.94 L118.84,219.94 L115.74,223.94 L112.64,219.94 Z" fill="#4cc47c"/>
<path d="M144.57,188.94 L147.67,192.94 L144.57,196.94 L141.47,192.94 Z" fill="#4cc47c"/>
<path d="M187.81,157.45 L190.91,161.45 L187.81,165.45 L184.71,161.45 Z" fill="#4cc47c"/>
<path d="M216.64,139.93 L219.74,143.93 L216.64,147.93 L213.54,143.93 Z" fill="#4cc47c"/>
<path d="M288.70,100.88 L291.80,104.88 L288.70,108.88 L285.60,104.88 Z" fill="#4cc47c"/>
<path d="M360.77,68.42 L363.87,72.42 L360.77,76.42 L357.67,72.42 Z" fill="#4cc47c"/>
<path d="M74.66,267.84 L77.76,271.84 L74.66,275.84 L71.56,271.84 Z" fill="#6e6ef2"/>
<path d="M86.91,261.90 L90.01,265.90 L86.91,269.90 L83.81,265.90 Z" fill="#6e6ef2"/>
<path d="M115.74,249.52 L118.84,253.52 L115.74,257.52 L112.64,253.52 Z" fill="#6e6ef2"/>
<path d="M144.57,237.63 L147.67,241.63 L144.57,245.63 L141.47,241.63 Z" fill="#6e6ef2"/>
<path d="M187.81,224.62 L190.91,228.62 L187.81,232.62 L184.71,228.62 Z" fill="#6e6ef2"/>
<path d="M216.64,218.03 L219.74,222.03 L216.64,226.03 L213.54,222.03 Z" fill="#6e6ef2"/>
<path d="M288.70,197.62 L291.80,201.62 L288.70,205.62 L285.60,201.62 Z" fill="#6e6ef2"/>
<path d="M360.77,181.71 L363.87,185.71 L360.77,189.71 L357.67,185.71 Z" fill="#6e6ef2"/>
<circle cx="78.27" cy="256.90" r="3.00" fill="#ff2020"/>
<circle cx="84.18" cy="241.95" r="3.00" fill="#ff2020"/>
<circle cx="95.85" cy="220.42" r="3.00" fill="#ff2020"/>
<circle cx="118.62" cy="190.21" r="3.00" fill="#ff2020"/>
<circle cx="143.13" cy="168.84" r="3.00" fill="#ff2020"/>
<circle cx="165.76" cy="152.13" r="3.00" fill="#ff2020"/>
<circle cx="206.98" cy="129.63" r="3.00" fill="#ff2020"/>
<circle cx="258.44" cy="110.02" r="3.00" fill="#ff2020"/>
<circle cx="351.98" cy="80.78" r="3.00" fill="#ff2020"/>
<circle cx="78.27" cy="262.04" r="3.00" fill="#00d860"/>
<circle cx="84.18" cy="250.47" r="3.00" fill="#00d860"/>
<circle cx="95.85" cy="232.15" r="3.00" fill="#00d860"/>
<circle cx="118.62" cy="202.74" r="3.00" fill="#00d860"/>
<circle cx="143.13" cy="178.48" r="3.00" fill="#00d860"/>
<circle cx="165.76" cy="160.80" r="3.00" fill="#00d860"/>
<circle cx="206.98" cy="133.49" r="3.00" fill="#00d860"/>
<circle cx="258.44" cy="105.52" r="3.00" fill="#00d860"/>
<circle cx="351.98" cy="65.67" r="3.00" fill="#00d860"/>
<circle cx="78.27" cy="269.75" r="3.00" fill="#0000ff"/>
<circle cx="84.18" cy="265.09" r="3.00" fill="#0000ff"/>
<circle cx="95.85" cy="258.51" r="3.00" fill="#0000ff"/>
<circle cx="118.62" cy="245.81" r="3.00" fill="#0000ff"/>
<circle cx="143.13" cy="234.24" r="3.00" fill="#0000ff"/>
<circle cx="165.76" cy="225.08" r="3.00" fill="#0000ff"/>
<circle cx="206.98" cy="211.74" r="3.00" fill="#0000ff"/>
<circle cx="258.44" cy="196.00" r="3.00" fill="#0000ff"/>
<circle cx="351.98" cy="172.69" r="3.00" fill="#0000ff"/>
<line x1="522.20" y1="0.27" x2="522.20" y2="273.45" class="gr"/>
<line x1="579.84" y1="0.27" x2="579.84" y2="273.45" class="gr"/>
<line x1="637.49" y1="0.27" x2="637.49" y2="273.45" class="gr"/>
<line x1="695.13" y1="0.27" x2="695.13" y2="273.45" class="gr"/>
<line x1="752.78" y1="0.27" x2="752.78" y2="273.45" class="gr"/>
<line x1="464.55" y1="233.28" x2="781.60" y2="233.28" class="gr"/>
<line x1="464.55" y1="193.10" x2="781.60" y2="193.10" class="gr"/>
<line x1="464.55" y1="152.93" x2="781.60" y2="152.93" class="gr"/>
<line x1="464.55" y1="112.76" x2="781.60" y2="112.76" class="gr"/>
<line x1="464.55" y1="72.58" x2="781.60" y2="72.58" class="gr"/>
<line x1="464.55" y1="32.41" x2="781.60" y2="32.41" class="gr"/>
<path d="M464.55,273.45 L464.86,272.76 L465.17,272.07 L465.48,271.38 L465.79,270.69 L466.10,269.99 L466.41,269.30 L466.73,268.61 L467.04,267.92 L467.35,267.23 L467.66,266.54 L467.97,265.85 L468.28,265.16 L468.60,264.46 L468.91,263.77 L469.22,263.08 L469.54,262.39 L469.85,261.70 L470.17,261.01 L470.48,260.32 L470.80,259.63 L471.12,258.93 L471.43,258.24 L471.75,257.55 L472.07,256.86 L472.39,256.17 L472.71,255.48 L473.03,254.79 L473.35,254.10 L473.68,253.41 L474.00,252.71 L474.33,252.02 L474.65,251.33 L474.98,250.64 L475.31,249.95 L475.64,249.26 L475.97,248.57 L476.30,247.88 L476.64,247.18 L476.97,246.49 L477.31,245.80 L477.64,245.11 L477.98,244.42 L478.32,243.73 L478.66,243.04 L479.01,242.35 L479.35,241.65 L479.70,240.96 L480.05,240.27 L480.40,239.58 L480.75,238.89 L481.10,238.20 L481.46,237.51 L481.82,236.82 L482.18,236.13 L482.54,235.43 L482.90,234.74 L483.26,234.05 L483.63,233.36 L484.00,232.67 L484.37,231.98 L484.75,231.29 L485.12,230.60 L485.50,229.90 L485.88,229.21 L486.27,228.52 L486.65,227.83 L487.04,227.14 L487.43,226.45 L487.82,225.76 L488.22,225.07 L488.62,224.37 L489.02,223.68 L489.42,222.99 L489.83,222.30 L490.24,221.61 L490.65,220.92 L491.07,220.23 L491.49,219.54 L491.91,218.85 L492.33,218.15 L492.76,217.46 L493.19,216.77 L493.62,216.08 L494.06,215.39 L494.50,214.70 L494.94,214.01 L495.39,213.32 L495.84,212.62 L496.29,211.93 L496.75,211.24 L497.21,210.55 L497.68,209.86 L498.15,209.17 L498.62,208.48 L499.09,207.79 L499.57,207.09 L500.05,206.40 L500.54,205.71 L501.03,205.02 L501.53,204.33 L502.02,203.64 L502.53,202.95 L503.03,202.26 L503.54,201.57 L504.06,200.87 L504.58,200.18 L505.10,199.49 L505.63,198.80 L506.16,198.11 L506.70,197.42 L507.24,196.73 L507.78,196.04 L508.33,195.34 L508.89,194.65 L509.45,193.96 L510.01,193.27 L510.58,192.58 L511.15,191.89 L511.73,191.20 L512.32,190.51 L512.90,189.81 L513.50,189.12 L514.09,188.43 L514.70,187.74 L515.30,187.05 L515.92,186.36 L516.54,185.67 L517.16,184.98 L517.79,184.29 L518.42,183.59 L519.06,182.90 L519.71,182.21 L520.36,181.52 L521.01,180.83 L521.68,180.14 L522.34,179.45 L523.02,178.76 L523.69,178.06 L524.38,177.37 L525.07,176.68 L525.76,175.99 L526.47,175.30 L527.17,174.61 L527.89,173.92 L528.61,173.23 L529.33,172.53 L530.07,171.84 L530.80,171.15 L531.55,170.46 L532.30,169.77 L533.06,169.08 L533.82,168.39 L534.59,167.70 L535.37,167.00 L536.15,166.31 L536.94,165.62 L537.74,164.93 L538.54,164.24 L539.35,163.55 L540.17,162.86 L540.99,162.17 L541.82,161.48 L542.66,160.78 L543.50,160.09 L544.35,159.40 L545.21,158.71 L546.07,158.02 L546.95,157.33 L547.83,156.64 L548.71,155.95 L549.61,155.25 L550.51,154.56 L551.42,153.87 L552.33,153.18 L553.26,152.49 L554.19,151.80 L555.13,151.11 L556.07,150.42 L557.03,149.72 L557.99,149.03 L558.96,148.34 L559.94,147.65 L560.92,146.96 L561.92,146.27 L562.92,145.58 L563.93,144.89 L564.95,144.20 L565.97,143.50 L567.01,142.81 L568.05,142.12 L569.10,141.43 L570.16,140.74 L571.22,140.05 L572.30,139.36 L573.38,138.67 L574.48,137.97 L575.58,137.28 L576.69,136.59 L577.81,135.90 L578.94,135.21 L580.07,134.52 L581.22,133.83 L582.37,133.14 L583.53,132.44 L584.71,131.75 L585.89,131.06 L587.08,130.37 L588.28,129.68 L589.49,128.99 L590.70,128.30 L591.93,127.61 L593.17,126.92 L594.41,126.22 L595.67,125.53 L596.93,124.84 L598.21,124.15 L599.49,123.46 L600.79,122.77 L602.09,122.08 L603.40,121.39 L604.73,120.69 L606.06,120.00 L607.40,119.31 L608.75,118.62 L610.12,117.93 L611.49,117.24 L612.87,116.55 L614.27,115.86 L615.67,115.16 L617.08,114.47 L618.51,113.78 L619.94,113.09 L621.39,112.40 L622.84,111.71 L624.31,111.02 L625.78,110.33 L627.27,109.64 L628.77,108.94 L630.28,108.25 L631.80,107.56 L633.33,106.87 L634.87,106.18 L636.42,105.49 L637.98,104.80 L639.56,104.11 L641.14,103.41 L642.74,102.72 L644.34,102.03 L645.96,101.34 L647.59,100.65 L649.23,99.96 L650.89,99.27 L652.55,98.58 L654.23,97.88 L655.91,97.19 L657.61,96.50 L659.32,95.81 L661.05,95.12 L662.78,94.43 L664.53,93.74 L666.28,93.05 L668.05,92.36 L669.84,91.66 L671.63,90.97 L673.44,90.28 L675.25,89.59 L677.08,88.90 L678.93,88.21 L680.78,87.52 L682.65,86.83 L684.53,86.13 L686.42,85.44 L688.32,84.75 L690.24,84.06 L692.17,83.37 L694.11,82.68 L696.07,81.99 L698.03,81.30 L700.02,80.60 L702.01,79.91 L704.02,79.22 L706.03,78.53 L708.07,77.84 L710.11,77.15 L712.17,76.46 L714.24,75.77 L716.33,75.08 L718.43,74.38 L720.54,73.69 L722.66,73.00 L724.80,72.31 L726.95,71.62 L729.12,70.93 L731.30,70.24 L733.49,69.55 L735.70,68.85 L737.92,68.16 L740.15,67.47 L742.40,66.78" clip-path="url(#cTR)" fill="none" stroke="#f25a5a" stroke-width="1.15" stroke-dasharray="5.5 4.4"/>
<path d="M464.55,273.45 L464.97,272.77 L465.38,272.10 L465.80,271.42 L466.22,270.75 L466.64,270.07 L467.06,269.40 L467.48,268.72 L467.90,268.05 L468.33,267.37 L468.75,266.70 L469.18,266.02 L469.60,265.35 L470.03,264.67 L470.46,263.99 L470.89,263.32 L471.33,262.64 L471.76,261.97 L472.20,261.29 L472.63,260.62 L473.07,259.94 L473.51,259.27 L473.95,258.59 L474.40,257.92 L474.85,257.24 L475.29,256.57 L475.74,255.89 L476.20,255.21 L476.65,254.54 L477.10,253.86 L477.56,253.19 L478.02,252.51 L478.48,251.84 L478.95,251.16 L479.42,250.49 L479.88,249.81 L480.36,249.14 L480.83,248.46 L481.30,247.78 L481.78,247.11 L482.26,246.43 L482.74,245.76 L483.23,245.08 L483.72,244.41 L484.21,243.73 L484.70,243.06 L485.19,242.38 L485.69,241.71 L486.19,241.03 L486.69,240.36 L487.20,239.68 L487.71,239.00 L488.22,238.33 L488.73,237.65 L489.25,236.98 L489.77,236.30 L490.29,235.63 L490.81,234.95 L491.34,234.28 L491.87,233.60 L492.40,232.93 L492.94,232.25 L493.48,231.58 L494.02,230.90 L494.57,230.22 L495.11,229.55 L495.66,228.87 L496.22,228.20 L496.78,227.52 L497.34,226.85 L497.90,226.17 L498.47,225.50 L499.04,224.82 L499.61,224.15 L500.18,223.47 L500.76,222.80 L501.35,222.12 L501.93,221.44 L502.52,220.77 L503.11,220.09 L503.71,219.42 L504.31,218.74 L504.91,218.07 L505.51,217.39 L506.12,216.72 L506.74,216.04 L507.35,215.37 L507.97,214.69 L508.59,214.02 L509.22,213.34 L509.85,212.66 L510.48,211.99 L511.12,211.31 L511.76,210.64 L512.40,209.96 L513.05,209.29 L513.70,208.61 L514.36,207.94 L515.02,207.26 L515.68,206.59 L516.34,205.91 L517.01,205.24 L517.69,204.56 L518.37,203.88 L519.05,203.21 L519.73,202.53 L520.42,201.86 L521.11,201.18 L521.81,200.51 L522.51,199.83 L523.21,199.16 L523.92,198.48 L524.63,197.81 L525.35,197.13 L526.07,196.45 L526.79,195.78 L527.52,195.10 L528.25,194.43 L528.99,193.75 L529.73,193.08 L530.47,192.40 L531.22,191.73 L531.97,191.05 L532.72,190.38 L533.48,189.70 L534.25,189.03 L535.02,188.35 L535.79,187.67 L536.57,187.00 L537.35,186.32 L538.13,185.65 L538.92,184.97 L539.71,184.30 L540.51,183.62 L541.31,182.95 L542.12,182.27 L542.93,181.60 L543.75,180.92 L544.56,180.25 L545.39,179.57 L546.22,178.89 L547.05,178.22 L547.88,177.54 L548.73,176.87 L549.57,176.19 L550.42,175.52 L551.28,174.84 L552.13,174.17 L553.00,173.49 L553.87,172.82 L554.74,172.14 L555.61,171.47 L556.50,170.79 L557.38,170.11 L558.27,169.44 L559.17,168.76 L560.07,168.09 L560.97,167.41 L561.88,166.74 L562.79,166.06 L563.71,165.39 L564.63,164.71 L565.56,164.04 L566.49,163.36 L567.43,162.69 L568.37,162.01 L569.32,161.33 L570.27,160.66 L571.23,159.98 L572.19,159.31 L573.15,158.63 L574.12,157.96 L575.10,157.28 L576.08,156.61 L577.06,155.93 L578.05,155.26 L579.04,154.58 L580.04,153.90 L581.05,153.23 L582.06,152.55 L583.07,151.88 L584.09,151.20 L585.11,150.53 L586.14,149.85 L587.18,149.18 L588.21,148.50 L589.26,147.83 L590.31,147.15 L591.36,146.48 L592.42,145.80 L593.48,145.12 L594.55,144.45 L595.63,143.77 L596.71,143.10 L597.79,142.42 L598.88,141.75 L599.97,141.07 L601.07,140.40 L602.18,139.72 L603.29,139.05 L604.40,138.37 L605.52,137.70 L606.65,137.02 L607.78,136.34 L608.92,135.67 L610.06,134.99 L611.20,134.32 L612.36,133.64 L613.51,132.97 L614.67,132.29 L615.84,131.62 L617.02,130.94 L618.19,130.27 L619.38,129.59 L620.57,128.92 L621.76,128.24 L622.96,127.56 L624.16,126.89 L625.38,126.21 L626.59,125.54 L627.81,124.86 L629.04,124.19 L630.27,123.51 L631.51,122.84 L632.75,122.16 L634.00,121.49 L635.25,120.81 L636.51,120.14 L637.78,119.46 L639.05,118.78 L640.33,118.11 L641.61,117.43 L642.90,116.76 L644.19,116.08 L645.49,115.41 L646.79,114.73 L648.10,114.06 L649.42,113.38 L650.74,112.71 L652.06,112.03 L653.39,111.36 L654.73,110.68 L656.08,110.00 L657.43,109.33 L658.78,108.65 L660.14,107.98 L661.51,107.30 L662.88,106.63 L664.26,105.95 L665.64,105.28 L667.03,104.60 L668.43,103.93 L669.83,103.25 L671.23,102.57 L672.65,101.90 L674.06,101.22 L675.49,100.55 L676.92,99.87 L678.35,99.20 L679.80,98.52 L681.24,97.85 L682.70,97.17 L684.16,96.50 L685.62,95.82 L687.09,95.15 L688.57,94.47 L690.05,93.79 L691.54,93.12 L693.04,92.44 L694.54,91.77 L696.05,91.09 L697.56,90.42 L699.08,89.74 L700.60,89.07 L702.13,88.39 L703.67,87.72 L705.21,87.04 L706.76,86.37 L708.32,85.69 L709.88,85.01 L711.45,84.34 L713.02,83.66 L714.60,82.99 L716.19,82.31 L717.78,81.64 L719.38,80.96 L720.98,80.29 L722.59,79.61 L724.21,78.94 L725.83,78.26 L727.46,77.59 L729.09,76.91 L730.74,76.23 L732.38,75.56 L734.04,74.88 L735.70,74.21 L737.36,73.53 L739.04,72.86 L740.72,72.18 L742.40,71.51" clip-path="url(#cTR)" fill="none" stroke="#10b420" stroke-width="1.15" stroke-dasharray="5.5 4.4"/>
<path d="M464.55,273.45 L465.08,273.17 L465.60,272.88 L466.13,272.60 L466.66,272.32 L467.20,272.04 L467.73,271.75 L468.27,271.47 L468.80,271.19 L469.34,270.90 L469.89,270.62 L470.43,270.34 L470.98,270.06 L471.52,269.77 L472.07,269.49 L472.63,269.21 L473.18,268.92 L473.74,268.64 L474.30,268.36 L474.86,268.08 L475.42,267.79 L475.98,267.51 L476.55,267.23 L477.12,266.94 L477.69,266.66 L478.27,266.38 L478.85,266.10 L479.42,265.81 L480.01,265.53 L480.59,265.25 L481.18,264.96 L481.76,264.68 L482.36,264.40 L482.95,264.11 L483.54,263.83 L484.14,263.55 L484.74,263.27 L485.35,262.98 L485.95,262.70 L486.56,262.42 L487.17,262.13 L487.78,261.85 L488.40,261.57 L489.01,261.29 L489.64,261.00 L490.26,260.72 L490.88,260.44 L491.51,260.15 L492.14,259.87 L492.77,259.59 L493.41,259.31 L494.05,259.02 L494.69,258.74 L495.33,258.46 L495.98,258.17 L496.63,257.89 L497.28,257.61 L497.93,257.33 L498.59,257.04 L499.24,256.76 L499.91,256.48 L500.57,256.19 L501.24,255.91 L501.91,255.63 L502.58,255.35 L503.25,255.06 L503.93,254.78 L504.61,254.50 L505.29,254.21 L505.98,253.93 L506.66,253.65 L507.35,253.37 L508.05,253.08 L508.74,252.80 L509.44,252.52 L510.14,252.23 L510.85,251.95 L511.55,251.67 L512.26,251.39 L512.98,251.10 L513.69,250.82 L514.41,250.54 L515.13,250.25 L515.85,249.97 L516.58,249.69 L517.31,249.41 L518.04,249.12 L518.77,248.84 L519.51,248.56 L520.25,248.27 L520.99,247.99 L521.74,247.71 L522.49,247.42 L523.24,247.14 L523.99,246.86 L524.75,246.58 L525.51,246.29 L526.27,246.01 L527.03,245.73 L527.80,245.44 L528.57,245.16 L529.35,244.88 L530.12,244.60 L530.90,244.31 L531.68,244.03 L532.47,243.75 L533.26,243.46 L534.05,243.18 L534.84,242.90 L535.64,242.62 L536.44,242.33 L537.24,242.05 L538.04,241.77 L538.85,241.48 L539.66,241.20 L540.47,240.92 L541.29,240.64 L542.11,240.35 L542.93,240.07 L543.76,239.79 L544.59,239.50 L545.42,239.22 L546.25,238.94 L547.09,238.66 L547.93,238.37 L548.77,238.09 L549.62,237.81 L550.46,237.52 L551.32,237.24 L552.17,236.96 L553.03,236.68 L553.89,236.39 L554.75,236.11 L555.62,235.83 L556.49,235.54 L557.36,235.26 L558.23,234.98 L559.11,234.70 L559.99,234.41 L560.88,234.13 L561.76,233.85 L562.65,233.56 L563.55,233.28 L564.44,233.00 L565.34,232.72 L566.24,232.43 L567.15,232.15 L568.06,231.87 L568.97,231.58 L569.88,231.30 L570.80,231.02 L571.72,230.73 L572.64,230.45 L573.57,230.17 L574.49,229.89 L575.43,229.60 L576.36,229.32 L577.30,229.04 L578.24,228.75 L579.18,228.47 L580.13,228.19 L581.08,227.91 L582.03,227.62 L582.99,227.34 L583.95,227.06 L584.91,226.77 L585.88,226.49 L586.85,226.21 L587.82,225.93 L588.79,225.64 L589.77,225.36 L590.75,225.08 L591.73,224.79 L592.72,224.51 L593.71,224.23 L594.70,223.95 L595.70,223.66 L596.70,223.38 L597.70,223.10 L598.71,222.81 L599.71,222.53 L600.73,222.25 L601.74,221.97 L602.76,221.68 L603.78,221.40 L604.80,221.12 L605.83,220.83 L606.86,220.55 L607.89,220.27 L608.93,219.99 L609.97,219.70 L611.01,219.42 L612.06,219.14 L613.10,218.85 L614.16,218.57 L615.21,218.29 L616.27,218.01 L617.33,217.72 L618.39,217.44 L619.46,217.16 L620.53,216.87 L621.61,216.59 L622.68,216.31 L623.76,216.02 L624.85,215.74 L625.93,215.46 L627.02,215.18 L628.12,214.89 L629.21,214.61 L630.31,214.33 L631.41,214.04 L632.52,213.76 L633.63,213.48 L634.74,213.20 L635.85,212.91 L636.97,212.63 L638.09,212.35 L639.22,212.06 L640.34,211.78 L641.47,211.50 L642.61,211.22 L643.74,210.93 L644.88,210.65 L646.03,210.37 L647.17,210.08 L648.32,209.80 L649.48,209.52 L650.63,209.24 L651.79,208.95 L652.95,208.67 L654.12,208.39 L655.29,208.10 L656.46,207.82 L657.64,207.54 L658.82,207.26 L660.00,206.97 L661.18,206.69 L662.37,206.41 L663.56,206.12 L664.76,205.84 L665.95,205.56 L667.16,205.28 L668.36,204.99 L669.57,204.71 L670.78,204.43 L671.99,204.14 L673.21,203.86 L674.43,203.58 L675.65,203.30 L676.88,203.01 L678.11,202.73 L679.34,202.45 L680.58,202.16 L681.82,201.88 L683.06,201.60 L684.31,201.32 L685.56,201.03 L686.81,200.75 L688.07,200.47 L689.33,200.18 L690.59,199.90 L691.86,199.62 L693.13,199.33 L694.40,199.05 L695.68,198.77 L696.95,198.49 L698.24,198.20 L699.52,197.92 L700.81,197.64 L702.10,197.35 L703.40,197.07 L704.70,196.79 L706.00,196.51 L707.30,196.22 L708.61,195.94 L709.93,195.66 L711.24,195.37 L712.56,195.09 L713.88,194.81 L715.21,194.53 L716.53,194.24 L717.87,193.96 L719.20,193.68 L720.54,193.39 L721.88,193.11 L723.23,192.83 L724.57,192.55 L725.92,192.26 L727.28,191.98 L728.64,191.70 L730.00,191.41 L731.36,191.13 L732.73,190.85 L734.10,190.57 L735.48,190.28 L736.86,190.00 L738.24,189.72 L739.62,189.43 L741.01,189.15 L742.40,188.87" clip-path="url(#cTR)" fill="none" stroke="#3434f0" stroke-width="1.15" stroke-dasharray="5.5 4.4"/>
<rect x="464.55" y="0.27" width="317.05" height="273.18" class="fr"/>
<circle cx="464.55" cy="273.45" r="3.00" fill="#ff2020"/>
<circle cx="466.68" cy="267.02" r="3.00" fill="#ff2020"/>
<circle cx="468.59" cy="261.88" r="3.00" fill="#ff2020"/>
<circle cx="472.97" cy="251.43" r="3.00" fill="#ff2020"/>
<circle cx="481.27" cy="235.37" r="3.00" fill="#ff2020"/>
<circle cx="498.68" cy="208.21" r="3.00" fill="#ff2020"/>
<circle cx="532.86" cy="169.48" r="3.00" fill="#ff2020"/>
<circle cx="601.52" cy="120.95" r="3.00" fill="#ff2020"/>
<circle cx="742.23" cy="66.64" r="3.00" fill="#ff2020"/>
<circle cx="464.55" cy="273.45" r="3.00" fill="#00b400"/>
<circle cx="466.68" cy="270.24" r="3.00" fill="#00b400"/>
<circle cx="468.59" cy="266.54" r="3.00" fill="#00b400"/>
<circle cx="472.97" cy="259.63" r="3.00" fill="#00b400"/>
<circle cx="481.27" cy="247.74" r="3.00" fill="#00b400"/>
<circle cx="498.68" cy="226.85" r="3.00" fill="#00b400"/>
<circle cx="532.86" cy="191.34" r="3.00" fill="#00b400"/>
<circle cx="601.52" cy="138.79" r="3.00" fill="#00b400"/>
<circle cx="742.23" cy="70.65" r="3.00" fill="#00b400"/>
<circle cx="464.55" cy="273.45" r="3.00" fill="#0000ff"/>
<circle cx="466.68" cy="272.49" r="3.00" fill="#0000ff"/>
<circle cx="468.59" cy="271.52" r="3.00" fill="#0000ff"/>
<circle cx="472.97" cy="267.99" r="3.00" fill="#0000ff"/>
<circle cx="481.27" cy="264.61" r="3.00" fill="#0000ff"/>
<circle cx="498.68" cy="257.38" r="3.00" fill="#0000ff"/>
<circle cx="532.86" cy="243.88" r="3.00" fill="#0000ff"/>
<circle cx="601.52" cy="221.87" r="3.00" fill="#0000ff"/>
<circle cx="742.23" cy="188.92" r="3.00" fill="#0000ff"/>
<line x1="130.15" y1="333.27" x2="130.15" y2="606.45" class="gr"/>
<line x1="187.81" y1="333.27" x2="187.81" y2="606.45" class="gr"/>
<line x1="245.46" y1="333.27" x2="245.46" y2="606.45" class="gr"/>
<line x1="303.12" y1="333.27" x2="303.12" y2="606.45" class="gr"/>
<line x1="360.77" y1="333.27" x2="360.77" y2="606.45" class="gr"/>
<line x1="72.50" y1="566.28" x2="389.60" y2="566.28" class="gr"/>
<line x1="72.50" y1="526.10" x2="389.60" y2="526.10" class="gr"/>
<line x1="72.50" y1="485.93" x2="389.60" y2="485.93" class="gr"/>
<line x1="72.50" y1="445.76" x2="389.60" y2="445.76" class="gr"/>
<line x1="72.50" y1="405.58" x2="389.60" y2="405.58" class="gr"/>
<line x1="72.50" y1="365.41" x2="389.60" y2="365.41" class="gr"/>
<path d="M72.50,606.45 L72.85,605.84 L73.20,605.23 L73.54,604.62 L73.89,604.02 L74.24,603.41 L74.59,602.80 L74.94,602.19 L75.29,601.58 L75.63,600.97 L75.98,600.37 L76.33,599.76 L76.68,599.15 L77.03,598.54 L77.38,597.93 L77.73,597.32 L78.07,596.71 L78.42,596.11 L78.77,595.50 L79.12,594.89 L79.47,594.28 L79.82,593.67 L80.17,593.06 L80.52,592.45 L80.87,591.85 L81.22,591.24 L81.57,590.63 L81.92,590.02 L82.27,589.41 L82.63,588.80 L82.98,588.20 L83.33,587.59 L83.68,586.98 L84.04,586.37 L84.39,585.76 L84.74,585.15 L85.10,584.54 L85.45,583.94 L85.81,583.33 L86.16,582.72 L86.52,582.11 L86.88,581.50 L87.24,580.89 L87.59,580.28 L87.95,579.68 L88.31,579.07 L88.67,578.46 L89.03,577.85 L89.40,577.24 L89.76,576.63 L90.12,576.03 L90.49,575.42 L90.85,574.81 L91.22,574.20 L91.59,573.59 L91.96,572.98 L92.33,572.37 L92.70,571.77 L93.07,571.16 L93.44,570.55 L93.81,569.94 L94.19,569.33 L94.57,568.72 L94.94,568.11 L95.32,567.51 L95.70,566.90 L96.09,566.29 L96.47,565.68 L96.85,565.07 L97.24,564.46 L97.63,563.86 L98.02,563.25 L98.41,562.64 L98.80,562.03 L99.20,561.42 L99.59,560.81 L99.99,560.20 L100.39,559.60 L100.79,558.99 L101.20,558.38 L101.60,557.77 L102.01,557.16 L102.42,556.55 L102.83,555.94 L103.25,555.34 L103.66,554.73 L104.08,554.12 L104.50,553.51 L104.93,552.90 L105.35,552.29 L105.78,551.69 L106.21,551.08 L106.64,550.47 L107.08,549.86 L107.52,549.25 L107.96,548.64 L108.40,548.03 L108.85,547.43 L109.30,546.82 L109.75,546.21 L110.21,545.60 L110.67,544.99 L111.13,544.38 L111.59,543.78 L112.06,543.17 L112.53,542.56 L113.01,541.95 L113.48,541.34 L113.96,540.73 L114.45,540.12 L114.94,539.52 L115.43,538.91 L115.92,538.30 L116.42,537.69 L116.93,537.08 L117.43,536.47 L117.94,535.86 L118.46,535.26 L118.98,534.65 L119.50,534.04 L120.02,533.43 L120.56,532.82 L121.09,532.21 L121.63,531.61 L122.17,531.00 L122.72,530.39 L123.27,529.78 L123.83,529.17 L124.39,528.56 L124.96,527.95 L125.53,527.35 L126.10,526.74 L126.68,526.13 L127.27,525.52 L127.86,524.91 L128.46,524.30 L129.06,523.69 L129.66,523.09 L130.27,522.48 L130.89,521.87 L131.51,521.26 L132.14,520.65 L132.77,520.04 L133.41,519.44 L134.06,518.83 L134.71,518.22 L135.36,517.61 L136.02,517.00 L136.69,516.39 L137.36,515.78 L138.04,515.18 L138.73,514.57 L139.42,513.96 L140.12,513.35 L140.83,512.74 L141.54,512.13 L142.26,511.52 L142.98,510.92 L143.71,510.31 L144.45,509.70 L145.20,509.09 L145.95,508.48 L146.71,507.87 L147.47,507.27 L148.25,506.66 L149.03,506.05 L149.81,505.44 L150.61,504.83 L151.41,504.22 L152.22,503.61 L153.04,503.01 L153.86,502.40 L154.70,501.79 L155.54,501.18 L156.39,500.57 L157.25,499.96 L158.11,499.35 L158.98,498.75 L159.87,498.14 L160.76,497.53 L161.66,496.92 L162.56,496.31 L163.48,495.70 L164.40,495.10 L165.34,494.49 L166.28,493.88 L167.23,493.27 L168.19,492.66 L169.16,492.05 L170.14,491.44 L171.13,490.84 L172.12,490.23 L173.13,489.62 L174.15,489.01 L175.17,488.40 L176.21,487.79 L177.26,487.19 L178.31,486.58 L179.38,485.97 L180.45,485.36 L181.54,484.75 L182.64,484.14 L183.74,483.53 L184.86,482.93 L185.99,482.32 L187.13,481.71 L188.27,481.10 L189.43,480.49 L190.61,479.88 L191.79,479.27 L192.98,478.67 L194.19,478.06 L195.40,477.45 L196.63,476.84 L197.87,476.23 L199.12,475.62 L200.38,475.02 L201.65,474.41 L202.94,473.80 L204.24,473.19 L205.55,472.58 L206.87,471.97 L208.20,471.36 L209.55,470.76 L210.91,470.15 L212.28,469.54 L213.66,468.93 L215.06,468.32 L216.47,467.71 L217.89,467.10 L219.33,466.50 L220.78,465.89 L222.24,465.28 L223.72,464.67 L225.21,464.06 L226.71,463.45 L228.23,462.85 L229.76,462.24 L231.30,461.63 L232.86,461.02 L234.43,460.41 L236.02,459.80 L237.62,459.19 L239.24,458.59 L240.87,457.98 L242.51,457.37 L244.17,456.76 L245.85,456.15 L247.54,455.54 L249.24,454.93 L250.96,454.33 L252.69,453.72 L254.45,453.11 L256.21,452.50 L257.99,451.89 L259.79,451.28 L261.60,450.68 L263.43,450.07 L265.28,449.46 L267.14,448.85 L269.02,448.24 L270.91,447.63 L272.82,447.02 L274.75,446.42 L276.69,445.81 L278.65,445.20 L280.63,444.59 L282.62,443.98 L284.64,443.37 L286.66,442.76 L288.71,442.16 L290.78,441.55 L292.86,440.94 L294.96,440.33 L297.07,439.72 L299.21,439.11 L301.36,438.51 L303.53,437.90 L305.72,437.29 L307.93,436.68 L310.16,436.07 L312.40,435.46 L314.67,434.85 L316.95,434.25 L319.26,433.64 L321.58,433.03 L323.92,432.42 L326.28,431.81 L328.66,431.20 L331.06,430.60 L333.48,429.99 L335.92,429.38 L338.38,428.77 L340.85,428.16 L343.35,427.55 L345.87,426.94 L348.41,426.34 L350.98,425.73 L353.56,425.12 L356.16,424.51" clip-path="url(#cBL)" fill="none" stroke="#f25a5a" stroke-width="1.15" stroke-dasharray="5.5 4.4"/>
<path d="M72.50,606.45 L72.96,605.90 L73.41,605.35 L73.87,604.79 L74.33,604.24 L74.78,603.69 L75.24,603.14 L75.70,602.58 L76.15,602.03 L76.61,601.48 L77.07,600.93 L77.53,600.38 L77.98,599.82 L78.44,599.27 L78.90,598.72 L79.36,598.17 L79.81,597.61 L80.27,597.06 L80.73,596.51 L81.19,595.96 L81.65,595.40 L82.11,594.85 L82.57,594.30 L83.03,593.75 L83.49,593.20 L83.95,592.64 L84.41,592.09 L84.87,591.54 L85.33,590.99 L85.79,590.43 L86.26,589.88 L86.72,589.33 L87.18,588.78 L87.65,588.23 L88.11,587.67 L88.58,587.12 L89.04,586.57 L89.51,586.02 L89.98,585.46 L90.45,584.91 L90.91,584.36 L91.38,583.81 L91.85,583.26 L92.32,582.70 L92.80,582.15 L93.27,581.60 L93.74,581.05 L94.22,580.49 L94.69,579.94 L95.17,579.39 L95.65,578.84 L96.13,578.29 L96.61,577.73 L97.09,577.18 L97.57,576.63 L98.05,576.08 L98.54,575.52 L99.02,574.97 L99.51,574.42 L100.00,573.87 L100.49,573.31 L100.98,572.76 L101.47,572.21 L101.96,571.66 L102.46,571.11 L102.95,570.55 L103.45,570.00 L103.95,569.45 L104.45,568.90 L104.95,568.34 L105.46,567.79 L105.97,567.24 L106.47,566.69 L106.98,566.14 L107.49,565.58 L108.01,565.03 L108.52,564.48 L109.04,563.93 L109.56,563.37 L110.08,562.82 L110.60,562.27 L111.13,561.72 L111.66,561.17 L112.18,560.61 L112.72,560.06 L113.25,559.51 L113.79,558.96 L114.32,558.40 L114.86,557.85 L115.41,557.30 L115.95,556.75 L116.50,556.20 L117.05,555.64 L117.60,555.09 L118.16,554.54 L118.72,553.99 L119.28,553.43 L119.84,552.88 L120.41,552.33 L120.98,551.78 L121.55,551.22 L122.12,550.67 L122.70,550.12 L123.28,549.57 L123.86,549.02 L124.45,548.46 L125.04,547.91 L125.63,547.36 L126.23,546.81 L126.82,546.25 L127.43,545.70 L128.03,545.15 L128.64,544.60 L129.25,544.05 L129.87,543.49 L130.49,542.94 L131.11,542.39 L131.73,541.84 L132.36,541.28 L132.99,540.73 L133.63,540.18 L134.27,539.63 L134.92,539.08 L135.56,538.52 L136.21,537.97 L136.87,537.42 L137.53,536.87 L138.19,536.31 L138.86,535.76 L139.53,535.21 L140.21,534.66 L140.89,534.11 L141.57,533.55 L142.26,533.00 L142.95,532.45 L143.65,531.90 L144.35,531.34 L145.05,530.79 L145.76,530.24 L146.48,529.69 L147.20,529.13 L147.92,528.58 L148.65,528.03 L149.38,527.48 L150.12,526.93 L150.87,526.37 L151.61,525.82 L152.37,525.27 L153.12,524.72 L153.89,524.16 L154.65,523.61 L155.43,523.06 L156.20,522.51 L156.99,521.96 L157.78,521.40 L158.57,520.85 L159.37,520.30 L160.17,519.75 L160.98,519.19 L161.80,518.64 L162.62,518.09 L163.45,517.54 L164.28,516.99 L165.12,516.43 L165.96,515.88 L166.81,515.33 L167.67,514.78 L168.53,514.22 L169.39,513.67 L170.27,513.12 L171.15,512.57 L172.03,512.02 L172.93,511.46 L173.82,510.91 L174.73,510.36 L175.64,509.81 L176.56,509.25 L177.48,508.70 L178.41,508.15 L179.35,507.60 L180.29,507.04 L181.24,506.49 L182.20,505.94 L183.16,505.39 L184.13,504.84 L185.11,504.28 L186.09,503.73 L187.08,503.18 L188.08,502.63 L189.08,502.07 L190.10,501.52 L191.12,500.97 L192.14,500.42 L193.18,499.87 L194.22,499.31 L195.27,498.76 L196.32,498.21 L197.39,497.66 L198.46,497.10 L199.54,496.55 L200.62,496.00 L201.72,495.45 L202.82,494.90 L203.93,494.34 L205.05,493.79 L206.17,493.24 L207.31,492.69 L208.45,492.13 L209.60,491.58 L210.76,491.03 L211.93,490.48 L213.10,489.93 L214.29,489.37 L215.48,488.82 L216.68,488.27 L217.89,487.72 L219.10,487.16 L220.33,486.61 L221.57,486.06 L222.81,485.51 L224.06,484.95 L225.32,484.40 L226.59,483.85 L227.87,483.30 L229.16,482.75 L230.46,482.19 L231.77,481.64 L233.08,481.09 L234.41,480.54 L235.74,479.98 L237.09,479.43 L238.44,478.88 L239.81,478.33 L241.18,477.78 L242.56,477.22 L243.95,476.67 L245.36,476.12 L246.77,475.57 L248.19,475.01 L249.62,474.46 L251.06,473.91 L252.52,473.36 L253.98,472.81 L255.45,472.25 L256.93,471.70 L258.43,471.15 L259.93,470.60 L261.44,470.04 L262.97,469.49 L264.50,468.94 L266.05,468.39 L267.61,467.84 L269.17,467.28 L270.75,466.73 L272.34,466.18 L273.94,465.63 L275.55,465.07 L277.17,464.52 L278.81,463.97 L280.45,463.42 L282.11,462.86 L283.77,462.31 L285.45,461.76 L287.14,461.21 L288.84,460.66 L290.56,460.10 L292.28,459.55 L294.02,459.00 L295.77,458.45 L297.53,457.89 L299.30,457.34 L301.08,456.79 L302.88,456.24 L304.69,455.69 L306.51,455.13 L308.34,454.58 L310.18,454.03 L312.04,453.48 L313.91,452.92 L315.79,452.37 L317.69,451.82 L319.60,451.27 L321.52,450.72 L323.45,450.16 L325.39,449.61 L327.35,449.06 L329.32,448.51 L331.31,447.95 L333.31,447.40 L335.32,446.85 L337.34,446.30 L339.38,445.75 L341.43,445.19 L343.49,444.64 L345.57,444.09 L347.66,443.54 L349.76,442.98 L351.88,442.43 L354.01,441.88 L356.16,441.33" clip-path="url(#cBL)" fill="none" stroke="#3fd67f" stroke-width="1.15" stroke-dasharray="5.5 4.4"/>
<path d="M72.50,606.45 L72.94,606.22 L73.38,605.98 L73.83,605.75 L74.27,605.51 L74.72,605.28 L75.17,605.05 L75.62,604.81 L76.08,604.58 L76.54,604.35 L77.00,604.11 L77.46,603.88 L77.93,603.64 L78.39,603.41 L78.86,603.18 L79.34,602.94 L79.81,602.71 L80.29,602.47 L80.78,602.24 L81.26,602.01 L81.75,601.77 L82.24,601.54 L82.73,601.30 L83.23,601.07 L83.73,600.84 L84.23,600.60 L84.73,600.37 L85.24,600.14 L85.75,599.90 L86.27,599.67 L86.78,599.43 L87.30,599.20 L87.83,598.97 L88.35,598.73 L88.88,598.50 L89.41,598.26 L89.95,598.03 L90.49,597.80 L91.03,597.56 L91.57,597.33 L92.12,597.10 L92.67,596.86 L93.22,596.63 L93.78,596.39 L94.34,596.16 L94.91,595.93 L95.47,595.69 L96.04,595.46 L96.61,595.22 L97.19,594.99 L97.77,594.76 L98.35,594.52 L98.94,594.29 L99.53,594.05 L100.12,593.82 L100.72,593.59 L101.31,593.35 L101.92,593.12 L102.52,592.89 L103.13,592.65 L103.74,592.42 L104.36,592.18 L104.98,591.95 L105.60,591.72 L106.23,591.48 L106.85,591.25 L107.49,591.01 L108.12,590.78 L108.76,590.55 L109.40,590.31 L110.05,590.08 L110.70,589.85 L111.35,589.61 L112.01,589.38 L112.67,589.14 L113.33,588.91 L113.99,588.68 L114.66,588.44 L115.34,588.21 L116.01,587.97 L116.69,587.74 L117.38,587.51 L118.06,587.27 L118.75,587.04 L119.45,586.80 L120.14,586.57 L120.85,586.34 L121.55,586.10 L122.26,585.87 L122.97,585.64 L123.68,585.40 L124.40,585.17 L125.12,584.93 L125.85,584.70 L126.58,584.47 L127.31,584.23 L128.05,584.00 L128.79,583.76 L129.53,583.53 L130.27,583.30 L131.03,583.06 L131.78,582.83 L132.54,582.60 L133.30,582.36 L134.06,582.13 L134.83,581.89 L135.60,581.66 L136.38,581.43 L137.15,581.19 L137.94,580.96 L138.72,580.72 L139.51,580.49 L140.31,580.26 L141.10,580.02 L141.90,579.79 L142.71,579.55 L143.52,579.32 L144.33,579.09 L145.14,578.85 L145.96,578.62 L146.78,578.39 L147.61,578.15 L148.44,577.92 L149.27,577.68 L150.11,577.45 L150.95,577.22 L151.79,576.98 L152.64,576.75 L153.49,576.51 L154.35,576.28 L155.21,576.05 L156.07,575.81 L156.94,575.58 L157.81,575.35 L158.68,575.11 L159.56,574.88 L160.44,574.64 L161.33,574.41 L162.22,574.18 L163.11,573.94 L164.00,573.71 L164.90,573.47 L165.81,573.24 L166.72,573.01 L167.63,572.77 L168.54,572.54 L169.46,572.30 L170.38,572.07 L171.31,571.84 L172.24,571.60 L173.17,571.37 L174.11,571.14 L175.05,570.90 L176.00,570.67 L176.95,570.43 L177.90,570.20 L178.86,569.97 L179.82,569.73 L180.78,569.50 L181.75,569.26 L182.72,569.03 L183.70,568.80 L184.68,568.56 L185.66,568.33 L186.65,568.09 L187.64,567.86 L188.63,567.63 L189.63,567.39 L190.63,567.16 L191.64,566.93 L192.65,566.69 L193.66,566.46 L194.68,566.22 L195.70,565.99 L196.73,565.76 L197.76,565.52 L198.79,565.29 L199.83,565.05 L200.87,564.82 L201.91,564.59 L202.96,564.35 L204.01,564.12 L205.07,563.89 L206.13,563.65 L207.20,563.42 L208.26,563.18 L209.34,562.95 L210.41,562.72 L211.49,562.48 L212.57,562.25 L213.66,562.01 L214.75,561.78 L215.85,561.55 L216.95,561.31 L218.05,561.08 L219.16,560.84 L220.27,560.61 L221.38,560.38 L222.50,560.14 L223.63,559.91 L224.75,559.68 L225.88,559.44 L227.02,559.21 L228.16,558.97 L229.30,558.74 L230.45,558.51 L231.60,558.27 L232.75,558.04 L233.91,557.80 L235.07,557.57 L236.24,557.34 L237.41,557.10 L238.58,556.87 L239.76,556.64 L240.94,556.40 L242.13,556.17 L243.32,555.93 L244.51,555.70 L245.71,555.47 L246.91,555.23 L248.12,555.00 L249.33,554.76 L250.54,554.53 L251.76,554.30 L252.98,554.06 L254.20,553.83 L255.43,553.59 L256.67,553.36 L257.91,553.13 L259.15,552.89 L260.39,552.66 L261.64,552.43 L262.90,552.19 L264.15,551.96 L265.42,551.72 L266.68,551.49 L267.95,551.26 L269.23,551.02 L270.50,550.79 L271.79,550.55 L273.07,550.32 L274.36,550.09 L275.66,549.85 L276.95,549.62 L278.26,549.39 L279.56,549.15 L280.87,548.92 L282.19,548.68 L283.50,548.45 L284.83,548.22 L286.15,547.98 L287.48,547.75 L288.82,547.51 L290.16,547.28 L291.50,547.05 L292.85,546.81 L294.20,546.58 L295.55,546.34 L296.91,546.11 L298.27,545.88 L299.64,545.64 L301.01,545.41 L302.39,545.18 L303.77,544.94 L305.15,544.71 L306.54,544.47 L307.93,544.24 L309.33,544.01 L310.73,543.77 L312.13,543.54 L313.54,543.30 L314.95,543.07 L316.37,542.84 L317.79,542.60 L319.21,542.37 L320.64,542.14 L322.07,541.90 L323.51,541.67 L324.95,541.43 L326.39,541.20 L327.84,540.97 L329.30,540.73 L330.75,540.50 L332.21,540.26 L333.68,540.03 L335.15,539.80 L336.62,539.56 L338.10,539.33 L339.58,539.09 L341.07,538.86 L342.56,538.63 L344.05,538.39 L345.55,538.16 L347.06,537.93 L348.56,537.69 L350.07,537.46 L351.59,537.22 L353.11,536.99 L354.63,536.76 L356.16,536.52" clip-path="url(#cBL)" fill="none" stroke="#3434f0" stroke-width="1.15" stroke-dasharray="5.5 4.4"/>
<rect x="72.50" y="333.27" width="317.10" height="273.18" class="fr"/>
<circle cx="72.50" cy="606.45" r="3.00" fill="#ff2020"/>
<circle cx="73.08" cy="601.63" r="3.00" fill="#ff2020"/>
<circle cx="76.82" cy="596.33" r="3.00" fill="#ff2020"/>
<circle cx="81.15" cy="587.49" r="3.00" fill="#ff2020"/>
<circle cx="89.68" cy="572.06" r="3.00" fill="#ff2020"/>
<circle cx="106.80" cy="550.37" r="3.00" fill="#ff2020"/>
<circle cx="141.40" cy="515.18" r="3.00" fill="#ff2020"/>
<circle cx="213.47" cy="471.47" r="3.00" fill="#ff2020"/>
<circle cx="356.16" cy="424.87" r="3.00" fill="#ff2020"/>
<circle cx="72.50" cy="606.45" r="3.00" fill="#00d860"/>
<circle cx="73.08" cy="606.45" r="3.00" fill="#00d860"/>
<circle cx="76.82" cy="599.70" r="3.00" fill="#00d860"/>
<circle cx="81.15" cy="594.40" r="3.00" fill="#00d860"/>
<circle cx="89.68" cy="583.47" r="3.00" fill="#00d860"/>
<circle cx="106.80" cy="566.60" r="3.00" fill="#00d860"/>
<circle cx="141.40" cy="534.94" r="3.00" fill="#00d860"/>
<circle cx="213.47" cy="492.36" r="3.00" fill="#00d860"/>
<circle cx="356.16" cy="441.10" r="3.00" fill="#00d860"/>
<circle cx="72.50" cy="606.45" r="3.00" fill="#0000ff"/>
<circle cx="73.08" cy="603.88" r="3.00" fill="#0000ff"/>
<circle cx="76.82" cy="603.88" r="3.00" fill="#0000ff"/>
<circle cx="81.15" cy="600.83" r="3.00" fill="#0000ff"/>
<circle cx="89.68" cy="597.45" r="3.00" fill="#0000ff"/>
<circle cx="106.80" cy="593.27" r="3.00" fill="#0000ff"/>
<circle cx="141.40" cy="579.77" r="3.00" fill="#0000ff"/>
<circle cx="213.47" cy="561.94" r="3.00" fill="#0000ff"/>
<circle cx="356.16" cy="536.55" r="3.00" fill="#0000ff"/>
<line x1="522.20" y1="333.27" x2="522.20" y2="606.45" class="gr"/>
<line x1="579.84" y1="333.27" x2="579.84" y2="606.45" class="gr"/>
<line x1="637.49" y1="333.27" x2="637.49" y2="606.45" class="gr"/>
<line x1="695.13" y1="333.27" x2="695.13" y2="606.45" class="gr"/>
<line x1="752.78" y1="333.27" x2="752.78" y2="606.45" class="gr"/>
<line x1="464.55" y1="566.28" x2="781.60" y2="566.28" class="gr"/>
<line x1="464.55" y1="526.10" x2="781.60" y2="526.10" class="gr"/>
<line x1="464.55" y1="485.93" x2="781.60" y2="485.93" class="gr"/>
<line x1="464.55" y1="445.76" x2="781.60" y2="445.76" class="gr"/>
<line x1="464.55" y1="405.58" x2="781.60" y2="405.58" class="gr"/>
<line x1="464.55" y1="365.41" x2="781.60" y2="365.41" class="gr"/>
<path d="M464.55,606.45 L464.84,605.70 L465.14,604.94 L465.43,604.19 L465.73,603.43 L466.02,602.68 L466.32,601.93 L466.61,601.17 L466.91,600.42 L467.20,599.67 L467.50,598.91 L467.80,598.16 L468.09,597.40 L468.39,596.65 L468.69,595.90 L468.99,595.14 L469.29,594.39 L469.59,593.64 L469.89,592.88 L470.19,592.13 L470.49,591.37 L470.80,590.62 L471.10,589.87 L471.41,589.11 L471.71,588.36 L472.02,587.61 L472.33,586.85 L472.64,586.10 L472.95,585.34 L473.26,584.59 L473.57,583.84 L473.88,583.08 L474.20,582.33 L474.52,581.57 L474.84,580.82 L475.16,580.07 L475.48,579.31 L475.80,578.56 L476.12,577.81 L476.45,577.05 L476.78,576.30 L477.11,575.54 L477.44,574.79 L477.77,574.04 L478.11,573.28 L478.44,572.53 L478.78,571.78 L479.12,571.02 L479.46,570.27 L479.81,569.51 L480.16,568.76 L480.51,568.01 L480.86,567.25 L481.21,566.50 L481.57,565.74 L481.93,564.99 L482.29,564.24 L482.65,563.48 L483.01,562.73 L483.38,561.98 L483.75,561.22 L484.13,560.47 L484.50,559.71 L484.88,558.96 L485.26,558.21 L485.65,557.45 L486.04,556.70 L486.43,555.95 L486.82,555.19 L487.22,554.44 L487.61,553.68 L488.02,552.93 L488.42,552.18 L488.83,551.42 L489.24,550.67 L489.66,549.92 L490.08,549.16 L490.50,548.41 L490.92,547.65 L491.35,546.90 L491.78,546.15 L492.22,545.39 L492.66,544.64 L493.10,543.88 L493.55,543.13 L494.00,542.38 L494.45,541.62 L494.91,540.87 L495.37,540.12 L495.84,539.36 L496.31,538.61 L496.78,537.85 L497.26,537.10 L497.74,536.35 L498.23,535.59 L498.72,534.84 L499.21,534.09 L499.71,533.33 L500.21,532.58 L500.72,531.82 L501.23,531.07 L501.75,530.32 L502.27,529.56 L502.79,528.81 L503.32,528.06 L503.86,527.30 L504.39,526.55 L504.94,525.79 L505.49,525.04 L506.04,524.29 L506.60,523.53 L507.16,522.78 L507.73,522.02 L508.30,521.27 L508.88,520.52 L509.46,519.76 L510.05,519.01 L510.65,518.26 L511.24,517.50 L511.85,516.75 L512.46,515.99 L513.07,515.24 L513.69,514.49 L514.32,513.73 L514.95,512.98 L515.59,512.23 L516.23,511.47 L516.88,510.72 L517.53,509.96 L518.19,509.21 L518.86,508.46 L519.53,507.70 L520.20,506.95 L520.89,506.20 L521.58,505.44 L522.27,504.69 L522.97,503.93 L523.68,503.18 L524.39,502.43 L525.11,501.67 L525.84,500.92 L526.57,500.16 L527.31,499.41 L528.05,498.66 L528.81,497.90 L529.56,497.15 L530.33,496.40 L531.10,495.64 L531.88,494.89 L532.66,494.13 L533.45,493.38 L534.25,492.63 L535.05,491.87 L535.86,491.12 L536.68,490.37 L537.51,489.61 L538.34,488.86 L539.18,488.10 L540.03,487.35 L540.88,486.60 L541.74,485.84 L542.61,485.09 L543.48,484.33 L544.37,483.58 L545.26,482.83 L546.15,482.07 L547.06,481.32 L547.97,480.57 L548.89,479.81 L549.82,479.06 L550.75,478.30 L551.70,477.55 L552.65,476.80 L553.61,476.04 L554.57,475.29 L555.55,474.54 L556.53,473.78 L557.52,473.03 L558.52,472.27 L559.52,471.52 L560.54,470.77 L561.56,470.01 L562.59,469.26 L563.63,468.51 L564.68,467.75 L565.73,467.00 L566.80,466.24 L567.87,465.49 L568.95,464.74 L570.04,463.98 L571.14,463.23 L572.24,462.47 L573.36,461.72 L574.48,460.97 L575.62,460.21 L576.76,459.46 L577.91,458.71 L579.07,457.95 L580.24,457.20 L581.41,456.44 L582.60,455.69 L583.80,454.94 L585.00,454.18 L586.22,453.43 L587.44,452.68 L588.67,451.92 L589.91,451.17 L591.17,450.41 L592.43,449.66 L593.70,448.91 L594.98,448.15 L596.27,447.40 L597.56,446.65 L598.87,445.89 L600.19,445.14 L601.52,444.38 L602.86,443.63 L604.21,442.88 L605.56,442.12 L606.93,441.37 L608.31,440.61 L609.70,439.86 L611.09,439.11 L612.50,438.35 L613.92,437.60 L615.35,436.85 L616.79,436.09 L618.24,435.34 L619.70,434.58 L621.17,433.83 L622.65,433.08 L624.14,432.32 L625.64,431.57 L627.15,430.82 L628.67,430.06 L630.21,429.31 L631.75,428.55 L633.31,427.80 L634.87,427.05 L636.45,426.29 L638.04,425.54 L639.63,424.79 L641.24,424.03 L642.86,423.28 L644.50,422.52 L646.14,421.77 L647.79,421.02 L649.46,420.26 L651.14,419.51 L652.82,418.75 L654.52,418.00 L656.23,417.25 L657.96,416.49 L659.69,415.74 L661.44,414.99 L663.19,414.23 L664.96,413.48 L666.74,412.72 L668.54,411.97 L670.34,411.22 L672.16,410.46 L673.99,409.71 L675.83,408.96 L677.68,408.20 L679.54,407.45 L681.42,406.69 L683.31,405.94 L685.21,405.19 L687.12,404.43 L689.05,403.68 L690.99,402.92 L692.94,402.17 L694.90,401.42 L696.88,400.66 L698.86,399.91 L700.86,399.16 L702.88,398.40 L704.90,397.65 L706.94,396.89 L708.99,396.14 L711.06,395.39 L713.13,394.63 L715.22,393.88 L717.33,393.13 L719.44,392.37 L721.57,391.62 L723.71,390.86 L725.87,390.11 L728.04,389.36 L730.22,388.60 L732.41,387.85 L734.62,387.10 L736.84,386.34 L739.08,385.59 L741.33,384.83 L743.59,384.08 L745.87,383.33 L748.16,382.57 L750.46,381.82 L752.78,381.06" clip-path="url(#cBR)" fill="none" stroke="#f25a5a" stroke-width="1.15" stroke-dasharray="5.5 4.4"/>
<path d="M464.55,606.45 L464.61,605.94 L464.71,605.42 L464.84,604.91 L465.00,604.40 L465.18,603.88 L465.38,603.37 L465.60,602.86 L465.83,602.34 L466.07,601.83 L466.33,601.31 L466.61,600.80 L466.89,600.29 L467.19,599.77 L467.50,599.26 L467.82,598.75 L468.15,598.23 L468.50,597.72 L468.85,597.21 L469.21,596.69 L469.58,596.18 L469.96,595.67 L470.35,595.15 L470.75,594.64 L471.16,594.13 L471.58,593.61 L472.00,593.10 L472.43,592.59 L472.88,592.07 L473.32,591.56 L473.78,591.04 L474.25,590.53 L474.72,590.02 L475.20,589.50 L475.68,588.99 L476.18,588.48 L476.68,587.96 L477.19,587.45 L477.70,586.94 L478.22,586.42 L478.75,585.91 L479.28,585.40 L479.82,584.88 L480.37,584.37 L480.93,583.86 L481.49,583.34 L482.05,582.83 L482.62,582.31 L483.20,581.80 L483.79,581.29 L484.38,580.77 L484.98,580.26 L485.58,579.75 L486.19,579.23 L486.80,578.72 L487.42,578.21 L488.04,577.69 L488.67,577.18 L489.31,576.67 L489.95,576.15 L490.60,575.64 L491.25,575.13 L491.91,574.61 L492.57,574.10 L493.24,573.59 L493.91,573.07 L494.59,572.56 L495.28,572.04 L495.97,571.53 L496.66,571.02 L497.36,570.50 L498.06,569.99 L498.77,569.48 L499.49,568.96 L500.20,568.45 L500.93,567.94 L501.66,567.42 L502.39,566.91 L503.13,566.40 L503.87,565.88 L504.62,565.37 L505.37,564.86 L506.13,564.34 L506.89,563.83 L507.65,563.32 L508.42,562.80 L509.20,562.29 L509.98,561.77 L510.76,561.26 L511.55,560.75 L512.34,560.23 L513.14,559.72 L513.94,559.21 L514.74,558.69 L515.55,558.18 L516.37,557.67 L517.19,557.15 L518.01,556.64 L518.84,556.13 L519.67,555.61 L520.50,555.10 L521.34,554.59 L522.19,554.07 L523.03,553.56 L523.89,553.04 L524.74,552.53 L525.60,552.02 L526.47,551.50 L527.33,550.99 L528.21,550.48 L529.08,549.96 L529.96,549.45 L530.85,548.94 L531.73,548.42 L532.63,547.91 L533.52,547.40 L534.42,546.88 L535.32,546.37 L536.23,545.86 L537.14,545.34 L538.06,544.83 L538.98,544.32 L539.90,543.80 L540.82,543.29 L541.75,542.77 L542.69,542.26 L543.63,541.75 L544.57,541.23 L545.51,540.72 L546.46,540.21 L547.41,539.69 L548.37,539.18 L549.33,538.67 L550.29,538.15 L551.26,537.64 L552.23,537.13 L553.20,536.61 L554.18,536.10 L555.16,535.59 L556.14,535.07 L557.13,534.56 L558.12,534.04 L559.12,533.53 L560.12,533.02 L561.12,532.50 L562.12,531.99 L563.13,531.48 L564.15,530.96 L565.16,530.45 L566.18,529.94 L567.20,529.42 L568.23,528.91 L569.26,528.40 L570.29,527.88 L571.33,527.37 L572.37,526.86 L573.41,526.34 L574.45,525.83 L575.50,525.32 L576.56,524.80 L577.61,524.29 L578.67,523.77 L579.73,523.26 L580.80,522.75 L581.87,522.23 L582.94,521.72 L584.02,521.21 L585.10,520.69 L586.18,520.18 L587.26,519.67 L588.35,519.15 L589.44,518.64 L590.54,518.13 L591.64,517.61 L592.74,517.10 L593.84,516.59 L594.95,516.07 L596.06,515.56 L597.17,515.05 L598.29,514.53 L599.41,514.02 L600.53,513.50 L601.66,512.99 L602.79,512.48 L603.92,511.96 L605.05,511.45 L606.19,510.94 L607.33,510.42 L608.48,509.91 L609.62,509.40 L610.77,508.88 L611.93,508.37 L613.08,507.86 L614.24,507.34 L615.41,506.83 L616.57,506.32 L617.74,505.80 L618.91,505.29 L620.08,504.77 L621.26,504.26 L622.44,503.75 L623.62,503.23 L624.81,502.72 L626.00,502.21 L627.19,501.69 L628.39,501.18 L629.58,500.67 L630.78,500.15 L631.99,499.64 L633.19,499.13 L634.40,498.61 L635.61,498.10 L636.83,497.59 L638.05,497.07 L639.27,496.56 L640.49,496.05 L641.72,495.53 L642.95,495.02 L644.18,494.50 L645.41,493.99 L646.65,493.48 L647.89,492.96 L649.13,492.45 L650.38,491.94 L651.63,491.42 L652.88,490.91 L654.13,490.40 L655.39,489.88 L656.65,489.37 L657.91,488.86 L659.18,488.34 L660.44,487.83 L661.72,487.32 L662.99,486.80 L664.26,486.29 L665.54,485.77 L666.82,485.26 L668.11,484.75 L669.40,484.23 L670.68,483.72 L671.98,483.21 L673.27,482.69 L674.57,482.18 L675.87,481.67 L677.17,481.15 L678.48,480.64 L679.79,480.13 L681.10,479.61 L682.41,479.10 L683.73,478.59 L685.05,478.07 L686.37,477.56 L687.69,477.05 L689.02,476.53 L690.35,476.02 L691.68,475.50 L693.01,474.99 L694.35,474.48 L695.69,473.96 L697.03,473.45 L698.38,472.94 L699.72,472.42 L701.07,471.91 L702.43,471.40 L703.78,470.88 L705.14,470.37 L706.50,469.86 L707.86,469.34 L709.23,468.83 L710.59,468.32 L711.96,467.80 L713.34,467.29 L714.71,466.78 L716.09,466.26 L717.47,465.75 L718.85,465.23 L720.24,464.72 L721.62,464.21 L723.01,463.69 L724.41,463.18 L725.80,462.67 L727.20,462.15 L728.60,461.64 L730.00,461.13 L731.41,460.61 L732.82,460.10 L734.23,459.59 L735.64,459.07 L737.05,458.56 L738.47,458.05 L739.89,457.53 L741.31,457.02 L742.74,456.50 L744.16,455.99 L745.59,455.48 L747.03,454.96 L748.46,454.45 L749.90,453.94 L751.34,453.42 L752.78,452.91" clip-path="url(#cBR)" fill="none" stroke="#3fd67f" stroke-width="1.15" stroke-dasharray="5.5 4.4"/>
<path d="M464.55,606.45 L464.69,606.21 L464.85,605.98 L465.03,605.74 L465.23,605.51 L465.43,605.27 L465.65,605.03 L465.88,604.80 L466.12,604.56 L466.38,604.33 L466.64,604.09 L466.91,603.85 L467.19,603.62 L467.48,603.38 L467.78,603.15 L468.09,602.91 L468.40,602.67 L468.73,602.44 L469.06,602.20 L469.40,601.97 L469.75,601.73 L470.10,601.49 L470.47,601.26 L470.84,601.02 L471.22,600.79 L471.60,600.55 L472.00,600.31 L472.40,600.08 L472.80,599.84 L473.22,599.61 L473.64,599.37 L474.06,599.13 L474.50,598.90 L474.94,598.66 L475.39,598.42 L475.84,598.19 L476.30,597.95 L476.77,597.72 L477.24,597.48 L477.72,597.24 L478.20,597.01 L478.69,596.77 L479.19,596.54 L479.69,596.30 L480.20,596.06 L480.72,595.83 L481.24,595.59 L481.76,595.36 L482.30,595.12 L482.84,594.88 L483.38,594.65 L483.93,594.41 L484.48,594.18 L485.05,593.94 L485.61,593.70 L486.18,593.47 L486.76,593.23 L487.35,593.00 L487.93,592.76 L488.53,592.52 L489.13,592.29 L489.73,592.05 L490.34,591.82 L490.96,591.58 L491.58,591.34 L492.20,591.11 L492.83,590.87 L493.47,590.64 L494.11,590.40 L494.76,590.16 L495.41,589.93 L496.07,589.69 L496.73,589.46 L497.39,589.22 L498.07,588.98 L498.74,588.75 L499.43,588.51 L500.11,588.28 L500.80,588.04 L501.50,587.80 L502.20,587.57 L502.91,587.33 L503.62,587.10 L504.33,586.86 L505.06,586.62 L505.78,586.39 L506.51,586.15 L507.25,585.92 L507.99,585.68 L508.73,585.44 L509.48,585.21 L510.23,584.97 L510.99,584.74 L511.76,584.50 L512.52,584.26 L513.30,584.03 L514.07,583.79 L514.85,583.56 L515.64,583.32 L516.43,583.08 L517.23,582.85 L518.03,582.61 L518.83,582.37 L519.64,582.14 L520.45,581.90 L521.27,581.67 L522.09,581.43 L522.92,581.19 L523.75,580.96 L524.58,580.72 L525.42,580.49 L526.27,580.25 L527.12,580.01 L527.97,579.78 L528.83,579.54 L529.69,579.31 L530.55,579.07 L531.42,578.83 L532.30,578.60 L533.18,578.36 L534.06,578.13 L534.95,577.89 L535.84,577.65 L536.73,577.42 L537.63,577.18 L538.54,576.95 L539.45,576.71 L540.36,576.47 L541.27,576.24 L542.20,576.00 L543.12,575.77 L544.05,575.53 L544.98,575.29 L545.92,575.06 L546.86,574.82 L547.81,574.59 L548.76,574.35 L549.71,574.11 L550.67,573.88 L551.63,573.64 L552.60,573.41 L553.57,573.17 L554.54,572.93 L555.52,572.70 L556.50,572.46 L557.49,572.23 L558.48,571.99 L559.47,571.75 L560.47,571.52 L561.47,571.28 L562.48,571.05 L563.48,570.81 L564.50,570.57 L565.52,570.34 L566.54,570.10 L567.56,569.87 L568.59,569.63 L569.63,569.39 L570.66,569.16 L571.70,568.92 L572.75,568.69 L573.80,568.45 L574.85,568.21 L575.91,567.98 L576.97,567.74 L578.03,567.51 L579.10,567.27 L580.17,567.03 L581.25,566.80 L582.33,566.56 L583.41,566.32 L584.50,566.09 L585.59,565.85 L586.68,565.62 L587.78,565.38 L588.88,565.14 L589.99,564.91 L591.10,564.67 L592.21,564.44 L593.33,564.20 L594.45,563.96 L595.57,563.73 L596.70,563.49 L597.84,563.26 L598.97,563.02 L600.11,562.78 L601.25,562.55 L602.40,562.31 L603.55,562.08 L604.70,561.84 L605.86,561.60 L607.02,561.37 L608.19,561.13 L609.36,560.90 L610.53,560.66 L611.71,560.42 L612.88,560.19 L614.07,559.95 L615.25,559.72 L616.44,559.48 L617.64,559.24 L618.84,559.01 L620.04,558.77 L621.24,558.54 L622.45,558.30 L623.66,558.06 L624.88,557.83 L626.10,557.59 L627.32,557.36 L628.55,557.12 L629.77,556.88 L631.01,556.65 L632.24,556.41 L633.48,556.18 L634.73,555.94 L635.98,555.70 L637.23,555.47 L638.48,555.23 L639.74,555.00 L641.00,554.76 L642.26,554.52 L643.53,554.29 L644.80,554.05 L646.08,553.82 L647.36,553.58 L648.64,553.34 L649.92,553.11 L651.21,552.87 L652.51,552.64 L653.80,552.40 L655.10,552.16 L656.40,551.93 L657.71,551.69 L659.02,551.46 L660.33,551.22 L661.65,550.98 L662.97,550.75 L664.29,550.51 L665.62,550.27 L666.95,550.04 L668.28,549.80 L669.62,549.57 L670.96,549.33 L672.30,549.09 L673.65,548.86 L675.00,548.62 L676.35,548.39 L677.71,548.15 L679.07,547.91 L680.43,547.68 L681.80,547.44 L683.17,547.21 L684.54,546.97 L685.92,546.73 L687.30,546.50 L688.68,546.26 L690.07,546.03 L691.46,545.79 L692.85,545.55 L694.25,545.32 L695.65,545.08 L697.05,544.85 L698.46,544.61 L699.87,544.37 L701.28,544.14 L702.70,543.90 L704.12,543.67 L705.54,543.43 L706.97,543.19 L708.40,542.96 L709.83,542.72 L711.27,542.49 L712.71,542.25 L714.15,542.01 L715.59,541.78 L717.04,541.54 L718.49,541.31 L719.95,541.07 L721.41,540.83 L722.87,540.60 L724.34,540.36 L725.80,540.13 L727.28,539.89 L728.75,539.65 L730.23,539.42 L731.71,539.18 L733.19,538.95 L734.68,538.71 L736.17,538.47 L737.66,538.24 L739.16,538.00 L740.66,537.77 L742.17,537.53 L743.67,537.29 L745.18,537.06 L746.69,536.82 L748.21,536.59 L749.73,536.35 L751.25,536.11 L752.78,535.88" clip-path="url(#cBR)" fill="none" stroke="#3434f0" stroke-width="1.15" stroke-dasharray="5.5 4.4"/>
<rect x="464.55" y="333.27" width="317.05" height="273.18" class="fr"/>
<circle cx="464.55" cy="606.45" r="3.00" fill="#ff2020"/>
<circle cx="466.14" cy="597.13" r="3.00" fill="#ff2020"/>
<circle cx="471.47" cy="567.24" r="3.00" fill="#ff2020"/>
<circle cx="478.38" cy="583.79" r="3.00" fill="#ff2020"/>
<circle cx="491.93" cy="542.17" r="3.00" fill="#ff2020"/>
<circle cx="519.23" cy="508.27" r="3.00" fill="#ff2020"/>
<circle cx="572.06" cy="466.97" r="3.00" fill="#ff2020"/>
<circle cx="625.96" cy="438.52" r="3.00" fill="#ff2020"/>
<circle cx="752.78" cy="376.82" r="3.00" fill="#ff2020"/>
<circle cx="464.55" cy="606.45" r="3.00" fill="#00d860"/>
<circle cx="466.14" cy="600.02" r="3.00" fill="#00d860"/>
<circle cx="471.47" cy="588.45" r="3.00" fill="#00d860"/>
<circle cx="478.38" cy="595.68" r="3.00" fill="#00d860"/>
<circle cx="491.93" cy="574.79" r="3.00" fill="#00d860"/>
<circle cx="519.23" cy="554.39" r="3.00" fill="#00d860"/>
<circle cx="572.06" cy="526.10" r="3.00" fill="#00d860"/>
<circle cx="625.96" cy="504.09" r="3.00" fill="#00d860"/>
<circle cx="752.78" cy="452.51" r="3.00" fill="#00d860"/>
<circle cx="464.55" cy="605.65" r="3.00" fill="#0000ff"/>
<circle cx="466.14" cy="602.91" r="3.00" fill="#0000ff"/>
<circle cx="471.47" cy="597.13" r="3.00" fill="#0000ff"/>
<circle cx="478.38" cy="600.83" r="3.00" fill="#0000ff"/>
<circle cx="491.93" cy="591.51" r="3.00" fill="#0000ff"/>
<circle cx="519.23" cy="582.51" r="3.00" fill="#0000ff"/>
<circle cx="572.06" cy="569.01" r="3.00" fill="#0000ff"/>
<circle cx="625.96" cy="557.44" r="3.00" fill="#0000ff"/>
<circle cx="752.78" cy="535.91" r="3.00" fill="#0000ff"/>
<text x="65.30" y="280.85" class="tk" text-anchor="end">0.00</text>
<text x="65.30" y="240.68" class="tk" text-anchor="end">0.25</text>
<text x="65.30" y="200.50" class="tk" text-anchor="end">0.50</text>
<text x="65.30" y="160.33" class="tk" text-anchor="end">0.75</text>
<text x="65.30" y="120.16" class="tk" text-anchor="end">1.00</text>
<text x="65.30" y="79.98" class="tk" text-anchor="end">1.25</text>
<text x="65.30" y="39.81" class="tk" text-anchor="end">1.50</text>
<text x="72.50" y="294.60" class="tk" text-anchor="middle">0</text>
<text x="144.57" y="294.60" class="tk" text-anchor="middle">5</text>
<text x="216.64" y="294.60" class="tk" text-anchor="middle">10</text>
<text x="288.70" y="294.60" class="tk" text-anchor="middle">15</text>
<text x="360.77" y="294.60" class="tk" text-anchor="middle">20</text>
<text x="457.35" y="280.85" class="tk" text-anchor="end">0.00</text>
<text x="457.35" y="240.68" class="tk" text-anchor="end">0.25</text>
<text x="457.35" y="200.50" class="tk" text-anchor="end">0.50</text>
<text x="457.35" y="160.33" class="tk" text-anchor="end">0.75</text>
<text x="457.35" y="120.16" class="tk" text-anchor="end">1.00</text>
<text x="457.35" y="79.98" class="tk" text-anchor="end">1.25</text>
<text x="457.35" y="39.81" class="tk" text-anchor="end">1.50</text>
<text x="464.55" y="294.60" class="tk" text-anchor="middle">0</text>
<text x="522.20" y="294.60" class="tk" text-anchor="middle">10</text>
<text x="579.84" y="294.60" class="tk" text-anchor="middle">20</text>
<text x="637.49" y="294.60" class="tk" text-anchor="middle">30</text>
<text x="695.13" y="294.60" class="tk" text-anchor="middle">40</text>
<text x="752.78" y="294.60" class="tk" text-anchor="middle">50</text>
<text x="65.30" y="613.85" class="tk" text-anchor="end">0.00</text>
<text x="65.30" y="573.68" class="tk" text-anchor="end">0.25</text>
<text x="65.30" y="533.50" class="tk" text-anchor="end">0.50</text>
<text x="65.30" y="493.33" class="tk" text-anchor="end">0.75</text>
<text x="65.30" y="453.16" class="tk" text-anchor="end">1.00</text>
<text x="65.30" y="412.98" class="tk" text-anchor="end">1.25</text>
<text x="65.30" y="372.81" class="tk" text-anchor="end">1.50</text>
<text x="72.50" y="627.60" class="tk" text-anchor="middle">0</text>
<text x="130.15" y="627.60" class="tk" text-anchor="middle">20</text>
<text x="187.81" y="627.60" class="tk" text-anchor="middle">40</text>
<text x="245.46" y="627.60" class="tk" text-anchor="middle">60</text>
<text x="303.12" y="627.60" class="tk" text-anchor="middle">80</text>
<text x="360.77" y="627.60" class="tk" text-anchor="middle">100</text>
<text x="457.35" y="613.85" class="tk" text-anchor="end">0.00</text>
<text x="457.35" y="573.68" class="tk" text-anchor="end">0.25</text>
<text x="457.35" y="533.50" class="tk" text-anchor="end">0.50</text>
<text x="457.35" y="493.33" class="tk" text-anchor="end">0.75</text>
<text x="457.35" y="453.16" class="tk" text-anchor="end">1.00</text>
<text x="457.35" y="412.98" class="tk" text-anchor="end">1.25</text>
<text x="457.35" y="372.81" class="tk" text-anchor="end">1.50</text>
<text x="464.55" y="627.60" class="tk" text-anchor="middle">0</text>
<text x="522.20" y="627.60" class="tk" text-anchor="middle">200</text>
<text x="579.84" y="627.60" class="tk" text-anchor="middle">400</text>
<text x="637.49" y="627.60" class="tk" text-anchor="middle">600</text>
<text x="695.13" y="627.60" class="tk" text-anchor="middle">800</text>
<text x="752.78" y="627.60" class="tk" text-anchor="middle">1,000</text>
<text transform="translate(15.2,136.46) rotate(-90)" class="al" text-anchor="middle"><tspan font-style="italic">nOD</tspan></text>
<text transform="translate(15.2,469.46) rotate(-90)" class="al" text-anchor="middle"><tspan font-style="italic">nOD</tspan></text>
<text x="178.60" y="656.9" class="al" style="font-style:italic;font-size:22px">D</text>
<text x="195.60" y="659.9" class="al" style="font-size:15.8px" textLength="35.6" lengthAdjust="spacingAndGlyphs">calib.</text>
<line x1="241.70" y1="661.3" x2="249.00" y2="641.4" stroke="#111" stroke-width="1.05"/>
<text x="258.00" y="657.1" class="al" style="font-size:21.6px" textLength="25.6" lengthAdjust="spacingAndGlyphs">Gy</text>
<text x="570.50" y="656.9" class="al" style="font-style:italic;font-size:22px">D</text>
<text x="587.50" y="659.9" class="al" style="font-size:15.8px" textLength="35.6" lengthAdjust="spacingAndGlyphs">calib.</text>
<line x1="633.60" y1="661.3" x2="640.90" y2="641.4" stroke="#111" stroke-width="1.05"/>
<text x="649.90" y="657.1" class="al" style="font-size:21.6px" textLength="25.6" lengthAdjust="spacingAndGlyphs">Gy</text>
<rect x="82.25" y="8.80" width="162.15" height="46.30" class="lg"/>
<circle cx="90.00" cy="22.10" r="2.95" fill="#111"/>
<text x="96.43" y="25.70" class="lt" style="font-size:14.00px" textLength="39.01" lengthAdjust="spacingAndGlyphs">EBT3</text>
<text x="139.94" y="25.70" class="lt" style="font-size:14.00px" textLength="31.33" lengthAdjust="spacingAndGlyphs">LOT</text>
<text x="176.03" y="25.70" class="lt" style="font-size:14.00px" textLength="59.87" lengthAdjust="spacingAndGlyphs">08252101</text>
<path d="M90.10,38.20 L93.10,41.90 L90.10,45.60 L87.10,41.90 Z" fill="#111"/>
<text x="96.43" y="45.10" class="lt" style="font-size:14.00px" textLength="38.62" lengthAdjust="spacingAndGlyphs">EBT4</text>
<text x="139.94" y="45.10" class="lt" style="font-size:14.00px" textLength="31.33" lengthAdjust="spacingAndGlyphs">LOT</text>
<text x="176.03" y="45.10" class="lt" style="font-size:14.00px" textLength="60.20" lengthAdjust="spacingAndGlyphs">04072302</text>
<rect x="473.90" y="8.70" width="182.60" height="26.30" class="lg"/>
<circle cx="481.90" cy="22.10" r="2.95" fill="#111"/>
<text x="488.64" y="25.60" class="lt" style="font-size:14.00px" textLength="58.19" lengthAdjust="spacingAndGlyphs">EBT-XD</text>
<text x="551.34" y="25.60" class="lt" style="font-size:14.00px" textLength="31.23" lengthAdjust="spacingAndGlyphs">LOT</text>
<text x="588.85" y="25.60" class="lt" style="font-size:14.00px" textLength="58.13" lengthAdjust="spacingAndGlyphs">02232301</text>
<rect x="82.25" y="341.90" width="172.05" height="26.40" class="lg"/>
<circle cx="90.10" cy="355.00" r="2.95" fill="#111"/>
<text x="96.56" y="358.70" class="lt" style="font-size:14.00px" textLength="47.93" lengthAdjust="spacingAndGlyphs">MD-V3</text>
<text x="149.03" y="358.70" class="lt" style="font-size:14.00px" textLength="31.43" lengthAdjust="spacingAndGlyphs">LOT</text>
<text x="184.86" y="358.70" class="lt" style="font-size:14.00px" textLength="60.98" lengthAdjust="spacingAndGlyphs">10272002</text>
<rect x="473.90" y="341.90" width="169.20" height="26.40" class="lg"/>
<circle cx="481.90" cy="355.00" r="2.95" fill="#111"/>
<text x="488.56" y="358.70" class="lt" style="font-size:14.00px" textLength="45.58" lengthAdjust="spacingAndGlyphs">HD-V2</text>
<text x="538.34" y="358.70" class="lt" style="font-size:14.00px" textLength="31.02" lengthAdjust="spacingAndGlyphs">LOT</text>
<text x="575.04" y="358.70" class="lt" style="font-size:14.00px" textLength="59.30" lengthAdjust="spacingAndGlyphs">02042104</text>
</svg>
</body></html>
